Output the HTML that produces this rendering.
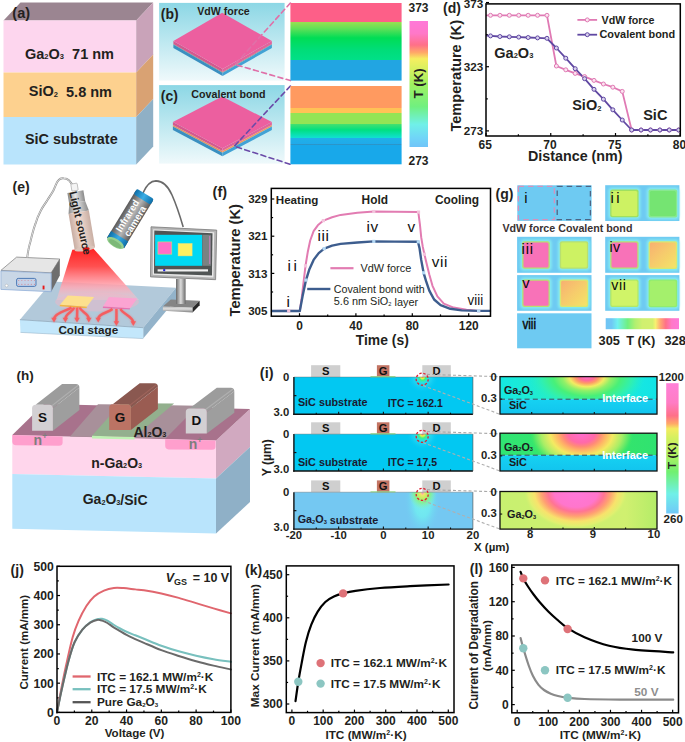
<!DOCTYPE html>
<html><head><meta charset="utf-8"><title>Figure</title>
<style>html,body{margin:0;padding:0;background:#fff;width:685px;height:742px;overflow:hidden}
body{position:relative;font-family:"Liberation Sans", sans-serif}</style></head>
<body><svg width="685" height="742" viewBox="0 0 685 742" style="position:absolute;left:0;top:0" font-family='"Liberation Sans", sans-serif'><defs><linearGradient id="bgbc" x1="0" y1="0" x2="0" y2="1"><stop offset="0" stop-color="#8cd7e5"/><stop offset="1" stop-color="#eff9fb"/></linearGradient><linearGradient id="stripb" x1="0" y1="0" x2="0" y2="1"><stop offset="0" stop-color="#fd5f88"/><stop offset="0.24" stop-color="#fd5f88"/><stop offset="0.245" stop-color="#9ae050"/><stop offset="0.33" stop-color="#60e058"/><stop offset="0.45" stop-color="#00dd55"/><stop offset="0.6" stop-color="#00dd78"/><stop offset="0.735" stop-color="#00e088"/><stop offset="0.74" stop-color="#22a5e2"/><stop offset="1" stop-color="#22a5e2"/></linearGradient><linearGradient id="stripc" x1="0" y1="0" x2="0" y2="1"><stop offset="0" stop-color="#ff9a60"/><stop offset="0.275" stop-color="#ff9a60"/><stop offset="0.28" stop-color="#f0a060"/><stop offset="0.285" stop-color="#ffc256"/><stop offset="0.345" stop-color="#ffc256"/><stop offset="0.35" stop-color="#92e455"/><stop offset="0.48" stop-color="#92e455"/><stop offset="0.49" stop-color="#40e070"/><stop offset="0.56" stop-color="#00e080"/><stop offset="0.66" stop-color="#10e0d0"/><stop offset="0.67" stop-color="#20b0e8"/><stop offset="0.74" stop-color="#20aaea"/><stop offset="0.745" stop-color="#3090c0"/><stop offset="0.755" stop-color="#18a8ea"/><stop offset="1" stop-color="#18a8ea"/></linearGradient><linearGradient id="cb1" x1="0" y1="0" x2="0" y2="1"><stop offset="0" stop-color="#ff78d8"/><stop offset="0.1" stop-color="#ff78c8"/><stop offset="0.19" stop-color="#ff7088"/><stop offset="0.25" stop-color="#ffa868"/><stop offset="0.3" stop-color="#f6ee60"/><stop offset="0.38" stop-color="#d8f060"/><stop offset="0.5" stop-color="#a0f060"/><stop offset="0.68" stop-color="#70f080"/><stop offset="0.82" stop-color="#70f0e8"/><stop offset="0.93" stop-color="#70d4f8"/><stop offset="1" stop-color="#70c4f8"/></linearGradient><linearGradient id="cone" x1="0" y1="0" x2="0" y2="1"><stop offset="0" stop-color="#ff2222"/><stop offset="0.35" stop-color="#ff5050"/><stop offset="0.75" stop-color="#ffa8b4" stop-opacity="0.85"/><stop offset="1" stop-color="#ffc8d2" stop-opacity="0.35"/></linearGradient><linearGradient id="beige" x1="0" y1="0" x2="1" y2="0"><stop offset="0" stop-color="#c8ada2"/><stop offset="0.45" stop-color="#f2ddd3"/><stop offset="1" stop-color="#c9afa4"/></linearGradient><linearGradient id="greyc" x1="0" y1="0" x2="1" y2="0"><stop offset="0" stop-color="#8a8a8a"/><stop offset="0.45" stop-color="#e8e8e8"/><stop offset="1" stop-color="#8a8a8a"/></linearGradient><linearGradient id="camg" x1="0" y1="0" x2="1" y2="0"><stop offset="0" stop-color="#5a5a5a"/><stop offset="0.5" stop-color="#b4b4b4"/><stop offset="1" stop-color="#5a5a5a"/></linearGradient><linearGradient id="camb" x1="0" y1="0" x2="1" y2="0"><stop offset="0" stop-color="#0e6ea8"/><stop offset="0.5" stop-color="#3aaee6"/><stop offset="1" stop-color="#0e6ea8"/></linearGradient><linearGradient id="stand" x1="0" y1="0" x2="1" y2="0"><stop offset="0" stop-color="#6a6a6a"/><stop offset="0.5" stop-color="#dcdcdc"/><stop offset="1" stop-color="#6a6a6a"/></linearGradient><linearGradient id="basef" x1="0" y1="0" x2="0" y2="1"><stop offset="0" stop-color="#b8b8b8"/><stop offset="0.4" stop-color="#e0e0e0"/><stop offset="1" stop-color="#7a7a7a"/></linearGradient><filter id="blr1" x="-20%" y="-20%" width="140%" height="140%"><feGaussianBlur stdDeviation="1.1"/></filter><filter id="blr05" x="-10%" y="-10%" width="120%" height="120%"><feGaussianBlur stdDeviation="0.45"/></filter><linearGradient id="orsq" x1="0" y1="0" x2="1" y2="1"><stop offset="0" stop-color="#f8b070"/><stop offset="0.5" stop-color="#f6cc6c"/><stop offset="1" stop-color="#f4e468"/></linearGradient><linearGradient id="cbg" x1="0" y1="0" x2="1" y2="0"><stop offset="0" stop-color="#70c4f4"/><stop offset="0.08" stop-color="#70c8f4"/><stop offset="0.16" stop-color="#70f0f0"/><stop offset="0.3" stop-color="#70f080"/><stop offset="0.4" stop-color="#b0f070"/><stop offset="0.5" stop-color="#d0f070"/><stop offset="0.64" stop-color="#d4f070"/><stop offset="0.68" stop-color="#f8f070"/><stop offset="0.75" stop-color="#ffa474"/><stop offset="0.82" stop-color="#ff7088"/><stop offset="0.9" stop-color="#ff78c8"/><stop offset="1" stop-color="#ff78d8"/></linearGradient><radialGradient id="m3halo" gradientUnits="userSpaceOnUse" cx="422.5" cy="500" r="30" gradientTransform="translate(422.5,500) scale(0.62,1.25) translate(-422.5,-500)"><stop offset="0" stop-color="#78f0ee"/><stop offset="0.45" stop-color="#70ecf0" stop-opacity="0.85"/><stop offset="0.75" stop-color="#70d8f2" stop-opacity="0.4"/><stop offset="1" stop-color="#74c8f2" stop-opacity="0"/></radialGradient><radialGradient id="m3glow" gradientUnits="userSpaceOnUse" cx="422.5" cy="493" r="14" gradientTransform="translate(422.5,493) scale(1,1.2) translate(-422.5,-493)"><stop offset="0" stop-color="#ff88c8"/><stop offset="0.12" stop-color="#f4e070"/><stop offset="0.3" stop-color="#c8f060"/><stop offset="0.55" stop-color="#88f080" stop-opacity="0.85"/><stop offset="1" stop-color="#80f0c0" stop-opacity="0"/></radialGradient><radialGradient id="m1glow" gradientUnits="userSpaceOnUse" cx="422.5" cy="377" r="16"><stop offset="0" stop-color="#ff8060"/><stop offset="0.1" stop-color="#f0f040"/><stop offset="0.2" stop-color="#40f080"/><stop offset="0.35" stop-color="#30e8e0" stop-opacity="0.8"/><stop offset="0.6" stop-color="#30d8f4" stop-opacity="0.5"/><stop offset="1" stop-color="#02c8f2" stop-opacity="0"/></radialGradient><radialGradient id="m2glow" gradientUnits="userSpaceOnUse" cx="422.5" cy="434.1" r="16"><stop offset="0" stop-color="#ff6080"/><stop offset="0.12" stop-color="#f0f040"/><stop offset="0.25" stop-color="#40f080"/><stop offset="0.4" stop-color="#30e8e0" stop-opacity="0.8"/><stop offset="0.65" stop-color="#30d8f4" stop-opacity="0.45"/><stop offset="1" stop-color="#02c8f2" stop-opacity="0"/></radialGradient><clipPath id="zc0"><rect x="500" y="376.6" width="157" height="37.5"/></clipPath><radialGradient id="hot0" gradientUnits="userSpaceOnUse" cx="586.8" cy="376.6" r="58" gradientTransform="translate(586.8,376.6) scale(1,0.58) translate(-586.8,-376.6)"><stop offset="0" stop-color="#ff6cd0"/><stop offset="0.12" stop-color="#ff6a9a"/><stop offset="0.2" stop-color="#ff9a66"/><stop offset="0.3" stop-color="#f2ec62"/><stop offset="0.42" stop-color="#90f068"/><stop offset="0.58" stop-color="#48f078"/><stop offset="0.78" stop-color="#30f0b0"/><stop offset="1" stop-color="#24eec8" stop-opacity="0"/></radialGradient><linearGradient id="zbg0" x1="0" y1="0" x2="1" y2="0"><stop offset="0" stop-color="#14e8e2"/><stop offset="0.25" stop-color="#20ecd0"/><stop offset="0.5" stop-color="#24eec8"/><stop offset="0.75" stop-color="#1aeadc"/><stop offset="1" stop-color="#12e4e6"/></linearGradient><linearGradient id="sic0" x1="0" y1="0" x2="0" y2="1"><stop offset="0" stop-color="#16d2f2"/><stop offset="1" stop-color="#12c4ee"/></linearGradient><clipPath id="zc1"><rect x="500" y="433.2" width="157" height="37.80000000000001"/></clipPath><radialGradient id="hot1" gradientUnits="userSpaceOnUse" cx="581.5" cy="433.2" r="52" gradientTransform="translate(581.5,433.2) scale(1,0.72) translate(-581.5,-433.2)"><stop offset="0" stop-color="#ff6cd0"/><stop offset="0.26" stop-color="#ff6aa8"/><stop offset="0.36" stop-color="#ff8a78"/><stop offset="0.46" stop-color="#ffb466"/><stop offset="0.6" stop-color="#f4ea62"/><stop offset="0.78" stop-color="#a8ee66"/><stop offset="0.92" stop-color="#50e868"/><stop offset="1" stop-color="#38e868" stop-opacity="0"/></radialGradient><linearGradient id="zbg1" x1="0" y1="0" x2="1" y2="0"><stop offset="0" stop-color="#30e474"/><stop offset="0.5" stop-color="#38e868"/><stop offset="1" stop-color="#30e270"/></linearGradient><linearGradient id="sic1" x1="0" y1="0" x2="0" y2="1"><stop offset="0" stop-color="#16d2f2"/><stop offset="1" stop-color="#12c4ee"/></linearGradient><clipPath id="zc2"><rect x="500" y="491.5" width="157" height="37.60000000000002"/></clipPath><radialGradient id="hot2" gradientUnits="userSpaceOnUse" cx="576" cy="491.5" r="52" gradientTransform="translate(576,491.5) scale(1,0.72) translate(-576,-491.5)"><stop offset="0" stop-color="#ff78da"/><stop offset="0.42" stop-color="#ff76cc"/><stop offset="0.54" stop-color="#ff7494"/><stop offset="0.66" stop-color="#ffa072"/><stop offset="0.8" stop-color="#f8e26c"/><stop offset="0.92" stop-color="#e0f070"/><stop offset="1" stop-color="#d0f070" stop-opacity="0"/></radialGradient><linearGradient id="zbg2" x1="0" y1="0" x2="1" y2="0"><stop offset="0" stop-color="#c8f070"/><stop offset="0.8" stop-color="#d0f070"/><stop offset="1" stop-color="#b4ec68"/></linearGradient><linearGradient id="cbi" x1="0" y1="0" x2="0" y2="1"><stop offset="0" stop-color="#ff80d8"/><stop offset="0.15" stop-color="#ff7cc4"/><stop offset="0.25" stop-color="#ff7088"/><stop offset="0.31" stop-color="#ffa868"/><stop offset="0.35" stop-color="#f4ec60"/><stop offset="0.42" stop-color="#d4f060"/><stop offset="0.55" stop-color="#b0f060"/><stop offset="0.68" stop-color="#70f070"/><stop offset="0.85" stop-color="#70f0e8"/><stop offset="1" stop-color="#70c8f8"/></linearGradient></defs><polygon points="3.50,20.40 20.50,2.40 153.20,2.40 136.20,20.40" fill="#9b8591" />
<rect x="3.50" y="20.40" width="132.70" height="52.10" fill="#fdd6ee" />
<rect x="3.50" y="72.50" width="132.70" height="44.50" fill="#fdd18f" />
<rect x="3.50" y="117.00" width="132.70" height="47.50" fill="#b9e4fc" />
<polygon points="136.20,20.40 153.20,2.40 153.20,54.50 136.20,72.50" fill="#c9a3b9" />
<polygon points="136.20,72.50 153.20,54.50 153.20,99.00 136.20,117.00" fill="#d9a273" />
<polygon points="136.20,117.00 153.20,99.00 153.20,146.50 136.20,164.50" fill="#8fb0c6" />
<text x="12.30" y="18.30" font-size="14.5" text-anchor="start" font-weight="bold" fill="#231f20" >(a)</text>
<text x="25.00" y="58.70" font-size="14.5" text-anchor="start" font-weight="bold" fill="#231f20" >Ga<tspan font-size="7.54" dy="0.73">2</tspan><tspan dy="-0.73">O</tspan><tspan font-size="7.54" dy="0.73">3</tspan><tspan dy="-0.73"></tspan>&#160; 71 nm</text>
<text x="28.80" y="96.40" font-size="14.5" text-anchor="start" font-weight="bold" fill="#231f20" >SiO<tspan font-size="7.54" dy="0.73">2</tspan><tspan dy="-0.73"></tspan>&#160; 5.8 nm</text>
<text x="24.90" y="144.30" font-size="14.4" text-anchor="start" font-weight="bold" fill="#231f20" >SiC substrate</text>
<rect x="159.10" y="2.90" width="125.50" height="77.70" fill="url(#bgbc)" />
<rect x="159.10" y="85.10" width="125.50" height="78.50" fill="url(#bgbc)" />
<polygon points="173.40,40.90 222.60,69.00 222.60,72.00 173.40,43.90" fill="#d4588f" />
<polygon points="222.60,69.00 271.90,40.90 271.90,43.90 222.60,72.00" fill="#e2639c" />
<polygon points="173.40,43.90 222.60,72.00 222.60,72.70 173.40,44.60" fill="#b07060" />
<polygon points="222.60,72.00 271.90,43.90 271.90,44.60 222.60,72.70" fill="#c07868" />
<polygon points="173.40,44.60 222.60,72.70 222.60,76.00 173.40,47.90" fill="#3a8fc0" />
<polygon points="222.60,72.70 271.90,44.60 271.90,47.90 222.60,76.00" fill="#42a2d4" />
<polygon points="222.20,12.80 271.90,40.90 222.60,69.00 173.40,40.90" fill="#ec5f9f" />
<polygon points="172.90,122.10 222.40,148.30 222.40,151.10 172.90,124.90" fill="#d4588f" />
<polygon points="222.40,148.30 271.90,122.10 271.90,124.90 222.40,151.10" fill="#e2639c" />
<polygon points="172.90,124.90 222.40,151.10 222.40,152.80 172.90,126.60" fill="#e89060" />
<polygon points="222.40,151.10 271.90,124.90 271.90,126.60 222.40,152.80" fill="#f09a60" />
<polygon points="172.90,126.60 222.40,152.80 222.40,156.30 172.90,130.10" fill="#3a8fc0" />
<polygon points="222.40,152.80 271.90,126.60 271.90,130.10 222.40,156.30" fill="#42a2d4" />
<polygon points="222.20,96.40 271.90,122.10 222.40,148.30 172.90,122.10" fill="#ec5f9f" />
<text x="160.80" y="19.20" font-size="14" text-anchor="start" font-weight="bold" fill="#231f20" >(b)</text>
<text x="197.30" y="15.00" font-size="10.6" text-anchor="start" font-weight="bold" fill="#231f20" >VdW force</text>
<text x="160.80" y="100.50" font-size="14" text-anchor="start" font-weight="bold" fill="#231f20" >(c)</text>
<text x="191.30" y="98.10" font-size="10.7" text-anchor="start" font-weight="bold" fill="#231f20" >Covalent bond</text>
<polyline points="290.40,3.00 235.00,64.50 290.40,80.60" fill="none" stroke="#e070a8" stroke-width="1.6" stroke-linejoin="round" stroke-linecap="round" stroke-dasharray="5 3.5"/>
<polyline points="290.40,86.00 234.20,146.30 290.40,164.30" fill="none" stroke="#6a4aa8" stroke-width="1.6" stroke-linejoin="round" stroke-linecap="round" stroke-dasharray="5 3.5"/>
<rect x="290.40" y="3.00" width="111.20" height="77.60" fill="url(#stripb)" />
<rect x="290.40" y="86.00" width="111.20" height="78.30" fill="url(#stripc)" />
<rect x="409.50" y="21.00" width="18.50" height="126.00" fill="url(#cb1)" />
<text x="418.50" y="12.30" font-size="12" text-anchor="middle" font-weight="bold" fill="#231f20" >373</text>
<text x="418.50" y="164.90" font-size="12" text-anchor="middle" font-weight="bold" fill="#231f20" >273</text>
<text transform="translate(423.4,83.4) rotate(-90)" font-size="13.2" font-weight="bold" text-anchor="middle" fill="#231f20">T (K)</text>
<line x1="486.00" y1="130.90" x2="489.00" y2="130.90" stroke="#000" stroke-width="1.2" />
<line x1="486.00" y1="66.72" x2="489.00" y2="66.72" stroke="#000" stroke-width="1.2" />
<line x1="486.00" y1="2.55" x2="489.00" y2="2.55" stroke="#000" stroke-width="1.2" />
<line x1="486.00" y1="98.81" x2="487.80" y2="98.81" stroke="#000" stroke-width="1.2" />
<line x1="486.00" y1="34.64" x2="487.80" y2="34.64" stroke="#000" stroke-width="1.2" />
<line x1="486.00" y1="136.00" x2="486.00" y2="133.00" stroke="#000" stroke-width="1.2" />
<line x1="550.75" y1="136.00" x2="550.75" y2="133.00" stroke="#000" stroke-width="1.2" />
<line x1="615.50" y1="136.00" x2="615.50" y2="133.00" stroke="#000" stroke-width="1.2" />
<line x1="680.25" y1="136.00" x2="680.25" y2="133.00" stroke="#000" stroke-width="1.2" />
<line x1="518.38" y1="136.00" x2="518.38" y2="134.20" stroke="#000" stroke-width="1.2" />
<line x1="583.12" y1="136.00" x2="583.12" y2="134.20" stroke="#000" stroke-width="1.2" />
<line x1="647.88" y1="136.00" x2="647.88" y2="134.20" stroke="#000" stroke-width="1.2" />
<polyline points="486.80,15.30 490.50,15.30 499.91,15.30 509.32,15.30 518.73,15.30 528.14,15.30 537.55,15.30 546.96,15.30 556.37,66.00 565.78,69.80 575.19,73.40 584.60,76.60 594.01,80.40 603.42,84.00 612.83,87.20 622.24,91.40 631.65,130.00 641.06,130.00 650.47,130.00 659.88,130.00 669.29,130.00 678.70,130.00" fill="none" stroke="#e07ab4" stroke-width="1.8" stroke-linejoin="round" stroke-linecap="round" />
<polyline points="486.80,35.60 490.50,35.90 499.91,36.50 509.32,36.80 518.73,37.10 528.14,37.50 537.55,37.90 546.96,38.30 556.37,48.00 565.78,58.20 575.19,68.70 584.60,78.70 594.01,89.30 603.42,99.20 612.83,109.80 622.24,120.00 631.65,130.00 641.06,130.00 650.47,130.00 659.88,130.00 669.29,130.00 678.70,130.00" fill="none" stroke="#6048a2" stroke-width="1.8" stroke-linejoin="round" stroke-linecap="round" />
<circle cx="490.50" cy="15.30" r="2.00" fill="#fbe3ef" stroke="#e07ab4" stroke-width="1"/>
<circle cx="499.91" cy="15.30" r="2.00" fill="#fbe3ef" stroke="#e07ab4" stroke-width="1"/>
<circle cx="509.32" cy="15.30" r="2.00" fill="#fbe3ef" stroke="#e07ab4" stroke-width="1"/>
<circle cx="518.73" cy="15.30" r="2.00" fill="#fbe3ef" stroke="#e07ab4" stroke-width="1"/>
<circle cx="528.14" cy="15.30" r="2.00" fill="#fbe3ef" stroke="#e07ab4" stroke-width="1"/>
<circle cx="537.55" cy="15.30" r="2.00" fill="#fbe3ef" stroke="#e07ab4" stroke-width="1"/>
<circle cx="546.96" cy="15.30" r="2.00" fill="#fbe3ef" stroke="#e07ab4" stroke-width="1"/>
<circle cx="556.37" cy="66.00" r="2.00" fill="#fbe3ef" stroke="#e07ab4" stroke-width="1"/>
<circle cx="565.78" cy="69.80" r="2.00" fill="#fbe3ef" stroke="#e07ab4" stroke-width="1"/>
<circle cx="575.19" cy="73.40" r="2.00" fill="#fbe3ef" stroke="#e07ab4" stroke-width="1"/>
<circle cx="584.60" cy="76.60" r="2.00" fill="#fbe3ef" stroke="#e07ab4" stroke-width="1"/>
<circle cx="594.01" cy="80.40" r="2.00" fill="#fbe3ef" stroke="#e07ab4" stroke-width="1"/>
<circle cx="603.42" cy="84.00" r="2.00" fill="#fbe3ef" stroke="#e07ab4" stroke-width="1"/>
<circle cx="612.83" cy="87.20" r="2.00" fill="#fbe3ef" stroke="#e07ab4" stroke-width="1"/>
<circle cx="622.24" cy="91.40" r="2.00" fill="#fbe3ef" stroke="#e07ab4" stroke-width="1"/>
<circle cx="631.65" cy="130.00" r="2.00" fill="#fbe3ef" stroke="#e07ab4" stroke-width="1"/>
<circle cx="641.06" cy="130.00" r="2.00" fill="#fbe3ef" stroke="#e07ab4" stroke-width="1"/>
<circle cx="650.47" cy="130.00" r="2.00" fill="#fbe3ef" stroke="#e07ab4" stroke-width="1"/>
<circle cx="659.88" cy="130.00" r="2.00" fill="#fbe3ef" stroke="#e07ab4" stroke-width="1"/>
<circle cx="669.29" cy="130.00" r="2.00" fill="#fbe3ef" stroke="#e07ab4" stroke-width="1"/>
<circle cx="678.70" cy="130.00" r="2.00" fill="#fbe3ef" stroke="#e07ab4" stroke-width="1"/>
<circle cx="490.50" cy="35.90" r="2.00" fill="#d9d2ee" stroke="#6048a2" stroke-width="1"/>
<circle cx="499.91" cy="36.50" r="2.00" fill="#d9d2ee" stroke="#6048a2" stroke-width="1"/>
<circle cx="509.32" cy="36.80" r="2.00" fill="#d9d2ee" stroke="#6048a2" stroke-width="1"/>
<circle cx="518.73" cy="37.10" r="2.00" fill="#d9d2ee" stroke="#6048a2" stroke-width="1"/>
<circle cx="528.14" cy="37.50" r="2.00" fill="#d9d2ee" stroke="#6048a2" stroke-width="1"/>
<circle cx="537.55" cy="37.90" r="2.00" fill="#d9d2ee" stroke="#6048a2" stroke-width="1"/>
<circle cx="546.96" cy="38.30" r="2.00" fill="#d9d2ee" stroke="#6048a2" stroke-width="1"/>
<circle cx="556.37" cy="48.00" r="2.00" fill="#d9d2ee" stroke="#6048a2" stroke-width="1"/>
<circle cx="565.78" cy="58.20" r="2.00" fill="#d9d2ee" stroke="#6048a2" stroke-width="1"/>
<circle cx="575.19" cy="68.70" r="2.00" fill="#d9d2ee" stroke="#6048a2" stroke-width="1"/>
<circle cx="584.60" cy="78.70" r="2.00" fill="#d9d2ee" stroke="#6048a2" stroke-width="1"/>
<circle cx="594.01" cy="89.30" r="2.00" fill="#d9d2ee" stroke="#6048a2" stroke-width="1"/>
<circle cx="603.42" cy="99.20" r="2.00" fill="#d9d2ee" stroke="#6048a2" stroke-width="1"/>
<circle cx="612.83" cy="109.80" r="2.00" fill="#d9d2ee" stroke="#6048a2" stroke-width="1"/>
<circle cx="622.24" cy="120.00" r="2.00" fill="#d9d2ee" stroke="#6048a2" stroke-width="1"/>
<circle cx="631.65" cy="130.00" r="2.00" fill="#d9d2ee" stroke="#6048a2" stroke-width="1"/>
<circle cx="641.06" cy="130.00" r="2.00" fill="#d9d2ee" stroke="#6048a2" stroke-width="1"/>
<circle cx="650.47" cy="130.00" r="2.00" fill="#d9d2ee" stroke="#6048a2" stroke-width="1"/>
<circle cx="659.88" cy="130.00" r="2.00" fill="#d9d2ee" stroke="#6048a2" stroke-width="1"/>
<circle cx="669.29" cy="130.00" r="2.00" fill="#d9d2ee" stroke="#6048a2" stroke-width="1"/>
<circle cx="678.70" cy="130.00" r="2.00" fill="#d9d2ee" stroke="#6048a2" stroke-width="1"/>
<rect x="486" y="3.9" width="194.29999999999995" height="132.1" fill="none" stroke="#000" stroke-width="1.5"/>
<line x1="577.40" y1="19.90" x2="597.10" y2="19.90" stroke="#e07ab4" stroke-width="1.8" />
<circle cx="587.30" cy="19.90" r="2.00" fill="#fbe3ef" stroke="#e07ab4" stroke-width="1"/>
<line x1="577.40" y1="34.70" x2="597.10" y2="34.70" stroke="#6048a2" stroke-width="1.8" />
<circle cx="587.30" cy="34.70" r="2.00" fill="#d9d2ee" stroke="#6048a2" stroke-width="1"/>
<text x="601.50" y="23.58" font-size="10.7" text-anchor="start" font-weight="bold" fill="#231f20" >VdW force</text>
<text x="599.50" y="38.45" font-size="10.9" text-anchor="start" font-weight="bold" fill="#231f20" >Covalent bond</text>
<text x="494.30" y="57.50" font-size="14.5" text-anchor="start" font-weight="bold" fill="#231f20" >Ga<tspan font-size="7.54" dy="0.73">2</tspan><tspan dy="-0.73">O</tspan><tspan font-size="7.54" dy="0.73">3</tspan><tspan dy="-0.73"></tspan></text>
<text x="572.20" y="110.09" font-size="14.5" text-anchor="start" font-weight="bold" fill="#231f20" >SiO<tspan font-size="7.54" dy="0.73">2</tspan><tspan dy="-0.73"></tspan></text>
<text x="643.20" y="120.29" font-size="14.5" text-anchor="start" font-weight="bold" fill="#231f20" >SiC</text>
<text x="483.20" y="135.22" font-size="11.7" text-anchor="end" font-weight="bold" fill="#231f20" >273</text>
<text x="483.20" y="71.05" font-size="11.7" text-anchor="end" font-weight="bold" fill="#231f20" >323</text>
<text x="483.20" y="7.77" font-size="11.7" text-anchor="end" font-weight="bold" fill="#231f20" >373</text>
<text x="485.20" y="149.13" font-size="12" text-anchor="middle" font-weight="bold" fill="#231f20" >65</text>
<text x="549.95" y="149.13" font-size="12" text-anchor="middle" font-weight="bold" fill="#231f20" >70</text>
<text x="614.70" y="149.13" font-size="12" text-anchor="middle" font-weight="bold" fill="#231f20" >75</text>
<text x="679.45" y="149.13" font-size="12" text-anchor="middle" font-weight="bold" fill="#231f20" >80</text>
<text x="575.30" y="161.40" font-size="14.3" text-anchor="middle" font-weight="bold" fill="#231f20" >Distance (nm)</text>
<text transform="translate(461.2,75.8) rotate(-90)" font-size="14.6" font-weight="bold" text-anchor="middle" fill="#231f20">Temperature (K)</text>
<text x="443.00" y="13.30" font-size="14" text-anchor="start" font-weight="bold" fill="#231f20" >(d)</text>
<text x="12.50" y="191.80" font-size="14" text-anchor="start" font-weight="bold" fill="#231f20" >(e)</text>
<polygon points="19.90,319.70 52.00,281.50 176.00,287.80 143.20,327.70" fill="#b2c9da" />
<polygon points="143.20,327.70 176.00,287.80 176.00,299.20 143.20,338.60" fill="#93b3ca" />
<polygon points="19.90,319.70 143.20,327.70 143.20,338.60 20.50,332.40" fill="#c3e7fb" />
<line x1="19.90" y1="319.70" x2="143.20" y2="327.70" stroke="#8ea7ba" stroke-width="0.8" />
<line x1="20.50" y1="332.40" x2="143.20" y2="338.60" stroke="#9cb8cc" stroke-width="0.6" />
<polygon points="0.90,270.40 16.60,257.10 59.80,259.00 51.20,272.80" fill="#e6e6e6" stroke="#7a7a7a" stroke-width="0.7"/>
<polygon points="51.20,272.80 59.80,259.00 59.80,275.50 51.20,291.70" fill="#6e6e6e" />
<polygon points="0.90,270.90 51.20,273.20 51.20,291.70 0.90,289.40" fill="#c9d7e6" stroke="#86a8d6" stroke-width="0.7"/>
<rect x="16.6" y="278.4" width="19.4" height="8" rx="1.6" fill="#c4d2e8" stroke="#3f6fb0" stroke-width="0.9"/>
<circle cx="18.80" cy="280.60" r="0.45" fill="#e04040" />
<circle cx="18.80" cy="284.30" r="0.45" fill="#e04040" />
<circle cx="21.90" cy="280.60" r="0.45" fill="#e04040" />
<circle cx="21.90" cy="284.30" r="0.45" fill="#e04040" />
<circle cx="25.00" cy="280.60" r="0.45" fill="#e04040" />
<circle cx="25.00" cy="284.30" r="0.45" fill="#e04040" />
<circle cx="28.10" cy="280.60" r="0.45" fill="#e04040" />
<circle cx="28.10" cy="284.30" r="0.45" fill="#e04040" />
<circle cx="31.20" cy="280.60" r="0.45" fill="#e04040" />
<circle cx="31.20" cy="284.30" r="0.45" fill="#e04040" />
<circle cx="34.30" cy="280.60" r="0.45" fill="#e04040" />
<circle cx="34.30" cy="284.30" r="0.45" fill="#e04040" />
<rect x="42.60" y="285.60" width="1.90" height="3.80" fill="#e81818" />
<circle cx="6.60" cy="285.60" r="1.40" fill="#ffffff" stroke="#a0a0a0" stroke-width="0.4"/>
<path d="M27.2,257.5 C28.2,250 29,246 30.4,241.7 C32,235 33.5,229 35.5,223.7 C37,218 38.5,215 40.6,211 C43,206 45,204 47,200.7 C50,196 51.5,194 53.4,190.5 C55.5,186 56.5,182 58.5,180.2 C60,178.5 62,178 63.6,178.3 C66,178.6 67.5,179 68.8,180.2 C70,181.5 71,183 72.5,185" fill="none" stroke="#8c8c8c" stroke-width="1.9"/>
<path d="M27.2,257.5 C28.2,250 29,246 30.4,241.7 C32,235 33.5,229 35.5,223.7 C37,218 38.5,215 40.6,211 C43,206 45,204 47,200.7 C50,196 51.5,194 53.4,190.5 C55.5,186 56.5,182 58.5,180.2 C60,178.5 62,178 63.6,178.3 C66,178.6 67.5,179 68.8,180.2 C70,181.5 71,183 72.5,185" fill="none" stroke="#f2f2f2" stroke-width="0.8"/>
<polygon points="72.30,249.80 93.10,248.20 139.00,300.00 56.50,300.00" fill="url(#cone)" />
<ellipse cx="97" cy="302" rx="42" ry="9.5" fill="#f2b6c6" opacity="0.45"/>
<polygon points="59.90,304.80 67.80,295.60 94.10,296.90 86.90,306.80" fill="#fde08e" />
<polygon points="59.90,304.80 86.90,306.80 86.60,308.20 59.70,306.20" fill="#f2b840" />
<polygon points="103.00,306.50 108.90,297.00 137.30,298.50 130.00,308.20" fill="#fba4d2" />
<polygon points="103.00,306.50 130.00,308.20 129.80,309.60 102.80,307.90" fill="#e672b4" />
<g opacity="0.45" filter="url(#blr1)"><path d="M71.5,307.5 C67,311 56,312 54,318.5" fill="none" stroke="#ff4e4e" stroke-width="2.5"/><polygon points="51.2,317.8 56.8,317.8 54.0,322.6" fill="#ff4e4e"/><path d="M74.2,307.5 C73,312 66,313 65.4,318.5" fill="none" stroke="#ff4e4e" stroke-width="2.5"/><polygon points="62.6,317.8 68.2,317.8 65.4,322.6" fill="#ff4e4e"/><path d="M77,307.5 C77.5,312 77,315 77,318.5" fill="none" stroke="#ff4e4e" stroke-width="2.5"/><polygon points="74.2,317.8 79.8,317.8 77.0,322.6" fill="#ff4e4e"/><path d="M79.6,307.5 C81,312 88,313 88.8,318.5" fill="none" stroke="#ff4e4e" stroke-width="2.5"/><polygon points="86.0,317.8 91.6,317.8 88.8,322.6" fill="#ff4e4e"/><path d="M112.5,309 C108,313 99,313 98.2,318.5" fill="none" stroke="#ff4e4e" stroke-width="2.5"/><polygon points="95.4,317.8 101.0,317.8 98.2,322.6" fill="#ff4e4e"/><path d="M116.4,309 C116.6,314 116.4,317 116.4,322" fill="none" stroke="#ff4e4e" stroke-width="2.5"/><polygon points="113.6,321.3 119.2,321.3 116.4,326.1" fill="#ff4e4e"/><path d="M120.4,309 C123,314 132,316 133.3,322" fill="none" stroke="#ff4e4e" stroke-width="2.5"/><polygon points="130.5,321.3 136.1,321.3 133.3,326.1" fill="#ff4e4e"/></g>
<g opacity="0.8"><path d="M71.5,307.5 C67,311 56,312 54,318.5" fill="none" stroke="#ff4e4e" stroke-width="2.5"/><polygon points="51.2,317.8 56.8,317.8 54.0,322.6" fill="#ff4e4e"/><path d="M74.2,307.5 C73,312 66,313 65.4,318.5" fill="none" stroke="#ff4e4e" stroke-width="2.5"/><polygon points="62.6,317.8 68.2,317.8 65.4,322.6" fill="#ff4e4e"/><path d="M77,307.5 C77.5,312 77,315 77,318.5" fill="none" stroke="#ff4e4e" stroke-width="2.5"/><polygon points="74.2,317.8 79.8,317.8 77.0,322.6" fill="#ff4e4e"/><path d="M79.6,307.5 C81,312 88,313 88.8,318.5" fill="none" stroke="#ff4e4e" stroke-width="2.5"/><polygon points="86.0,317.8 91.6,317.8 88.8,322.6" fill="#ff4e4e"/><path d="M112.5,309 C108,313 99,313 98.2,318.5" fill="none" stroke="#ff4e4e" stroke-width="2.5"/><polygon points="95.4,317.8 101.0,317.8 98.2,322.6" fill="#ff4e4e"/><path d="M116.4,309 C116.6,314 116.4,317 116.4,322" fill="none" stroke="#ff4e4e" stroke-width="2.5"/><polygon points="113.6,321.3 119.2,321.3 116.4,326.1" fill="#ff4e4e"/><path d="M120.4,309 C123,314 132,316 133.3,322" fill="none" stroke="#ff4e4e" stroke-width="2.5"/><polygon points="130.5,321.3 136.1,321.3 133.3,326.1" fill="#ff4e4e"/></g>
<text x="58.40" y="334.20" font-size="11.7" text-anchor="start" font-weight="bold" fill="#231f20" >Cold stage</text>
<g transform="translate(73.9,183.6) rotate(-9.6)"><rect x="-3.2" y="0" width="6.4" height="7.2" rx="0.8" fill="#f4f4f4" stroke="#a0a0a0" stroke-width="0.6"/><rect x="-8" y="8.2" width="16.2" height="10.8" fill="url(#greyc)"/><polygon points="-8,19 8.2,19 10.3,29 -10.3,29" fill="url(#greyc)"/><rect x="-10.3" y="29" width="20.6" height="37" fill="url(#beige)"/><ellipse cx="0" cy="66" rx="10.3" ry="2.4" fill="#dcc4ba"/><ellipse cx="1.2" cy="66.5" rx="3.5" ry="1.7" fill="#e01010"/></g>
<text transform="translate(69.2,192.2) rotate(77)" font-size="10.8" font-weight="bold" fill="#231f20">Light source</text>
<path d="M143,193 C146,186 150,181 156,180.9 C163,181 168,186 172,195 C176,204 180,216 183.2,227" fill="none" stroke="#6a6a6a" stroke-width="1.6"/>
<g transform="translate(115.5,243) rotate(31.4)"><rect x="-10" y="-55" width="20" height="55" fill="url(#camg)"/><rect x="-10" y="-57.5" width="20" height="6.5" rx="2" fill="url(#camb)"/><rect x="-10" y="-8" width="20" height="8" fill="url(#camb)"/><ellipse cx="0" cy="0" rx="9.6" ry="4" fill="#96d090"/><ellipse cx="0" cy="0.8" rx="7.5" ry="2.6" fill="#6aa868" opacity="0.6"/><text transform="translate(-0.8,-29.5) rotate(-90)" font-size="9.6" font-weight="bold" fill="#ffffff" text-anchor="middle">Infrared</text><text transform="translate(8.6,-28.8) rotate(-90)" font-size="9.6" font-weight="bold" fill="#ffffff" text-anchor="middle">camera</text></g>
<polygon points="162.90,306.50 170.80,299.50 199.60,300.80 192.60,307.80" fill="#858585" />
<polygon points="162.90,306.50 192.60,307.80 192.60,312.60 162.90,310.80" fill="url(#basef)" />
<polygon points="192.60,307.80 199.60,300.80 199.60,305.20 192.60,312.60" fill="#262626" />
<rect x="176.00" y="279.00" width="9.60" height="25.00" fill="url(#stand)" />
<polygon points="151.00,226.80 216.70,230.10 215.60,279.70 150.50,276.90" fill="#b4b4b4" stroke="#7a7a7a" stroke-width="0.8"/>
<polygon points="153.20,229.20 214.20,232.20 213.40,277.50 152.80,274.70" fill="#e8e8e8" />
<polygon points="154.30,230.40 212.50,233.20 212.00,275.60 154.00,273.50" fill="#505454" />
<rect x="155.10" y="234.80" width="47.10" height="31.00" fill="#00d8f4" />
<rect x="202.40" y="234.80" width="8.50" height="31.00" fill="#7a8282" />
<rect x="209.30" y="236.00" width="0.90" height="28.00" fill="#d080c0" />
<rect x="157.90" y="241.90" width="13.90" height="12.30" fill="#ff6ec8" stroke="#c8e070" stroke-width="0.6"/>
<rect x="178.10" y="243.50" width="14.00" height="12.40" fill="#fff060" stroke="#e8e080" stroke-width="0.5"/>
<rect x="157.60" y="269.30" width="50.40" height="2.20" fill="#f0f0f0" />
<circle cx="164.20" cy="270.10" r="1.20" fill="#2020e0" />
<line x1="271.30" y1="310.60" x2="274.30" y2="310.60" stroke="#000" stroke-width="1.2" />
<line x1="271.30" y1="273.40" x2="274.30" y2="273.40" stroke="#000" stroke-width="1.2" />
<line x1="271.30" y1="236.20" x2="274.30" y2="236.20" stroke="#000" stroke-width="1.2" />
<line x1="271.30" y1="199.00" x2="274.30" y2="199.00" stroke="#000" stroke-width="1.2" />
<line x1="271.30" y1="292.00" x2="273.10" y2="292.00" stroke="#000" stroke-width="1.2" />
<line x1="271.30" y1="254.80" x2="273.10" y2="254.80" stroke="#000" stroke-width="1.2" />
<line x1="271.30" y1="217.60" x2="273.10" y2="217.60" stroke="#000" stroke-width="1.2" />
<line x1="299.50" y1="316.20" x2="299.50" y2="313.20" stroke="#000" stroke-width="1.2" />
<line x1="355.90" y1="316.20" x2="355.90" y2="313.20" stroke="#000" stroke-width="1.2" />
<line x1="412.30" y1="316.20" x2="412.30" y2="313.20" stroke="#000" stroke-width="1.2" />
<line x1="468.70" y1="316.20" x2="468.70" y2="313.20" stroke="#000" stroke-width="1.2" />
<line x1="327.70" y1="316.20" x2="327.70" y2="314.40" stroke="#000" stroke-width="1.2" />
<line x1="384.10" y1="316.20" x2="384.10" y2="314.40" stroke="#000" stroke-width="1.2" />
<line x1="440.50" y1="316.20" x2="440.50" y2="314.40" stroke="#000" stroke-width="1.2" />
<polyline points="272.00,311.00 285.00,310.80 299.80,311.00 301.50,299.50 303.50,282.60 305.50,265.80 307.70,252.30 310.20,240.50 313.60,231.20 317.80,225.30 323.40,220.60 332.10,217.20 340.60,214.90 357.40,212.70 373.80,211.50 395.00,211.80 418.30,211.90 419.90,224.30 421.20,237.20 422.80,246.90 424.40,254.20 426.90,264.70 429.30,274.50 432.50,285.80 437.40,296.30 443.80,303.60 453.60,307.60 466.50,309.70 477.80,310.90 490.00,310.90" fill="none" stroke="#e27cb2" stroke-width="2.0" stroke-linejoin="round" stroke-linecap="round" />
<polyline points="272.00,311.00 285.00,311.00 299.80,311.00 302.60,296.10 306.00,280.10 309.40,269.20 313.60,259.90 318.70,253.10 324.20,248.60 332.10,245.60 340.60,243.90 357.40,242.50 373.80,241.40 395.00,241.60 418.00,241.80 419.60,248.60 421.20,259.90 423.60,272.80 426.00,280.90 429.30,290.60 434.10,299.50 440.60,305.20 450.30,308.80 461.70,310.40 478.60,310.90 490.00,310.90" fill="none" stroke="#3d5d8e" stroke-width="2.4" stroke-linejoin="round" stroke-linecap="round" />
<rect x="287.10" y="309.20" width="3.20" height="3.20" fill="#f3c4dc" />
<rect x="303.90" y="264.20" width="3.20" height="3.20" fill="#f3c4dc" />
<rect x="321.80" y="219.00" width="3.20" height="3.20" fill="#f3c4dc" />
<rect x="372.20" y="209.90" width="3.20" height="3.20" fill="#f3c4dc" />
<rect x="416.90" y="210.50" width="3.20" height="3.20" fill="#f3c4dc" />
<rect x="422.80" y="252.60" width="3.20" height="3.20" fill="#f3c4dc" />
<rect x="477.00" y="309.30" width="3.20" height="3.20" fill="#f3c4dc" />
<rect x="304.40" y="278.50" width="3.20" height="3.20" fill="#b4d8f4" />
<rect x="322.60" y="247.00" width="3.20" height="3.20" fill="#b4d8f4" />
<rect x="372.20" y="239.80" width="3.20" height="3.20" fill="#b4d8f4" />
<rect x="416.70" y="240.20" width="3.20" height="3.20" fill="#b4d8f4" />
<rect x="422.00" y="271.20" width="3.20" height="3.20" fill="#b4d8f4" />
<rect x="477.00" y="309.30" width="3.20" height="3.20" fill="#b4d8f4" />
<rect x="271.3" y="188.4" width="219.2" height="127.79999999999998" fill="none" stroke="#000" stroke-width="1.5"/>
<line x1="330.40" y1="268.20" x2="353.50" y2="268.20" stroke="#e27cb2" stroke-width="2.2" />
<line x1="307.20" y1="289.00" x2="330.40" y2="289.00" stroke="#3d5d8e" stroke-width="2.4" />
<text x="360.40" y="271.95" font-size="10.9" text-anchor="start" font-weight="normal" fill="#231f20" >VdW force</text>
<text x="333.80" y="292.68" font-size="10.7" text-anchor="start" font-weight="normal" fill="#231f20" >Covalent bond with</text>
<text x="333.80" y="305.15" font-size="10.9" text-anchor="start" font-weight="normal" fill="#231f20" >5.6 nm SiO<tspan font-size="5.67" dy="0.55">2</tspan><tspan dy="-0.55"></tspan> layer</text>
<text x="275.80" y="204.19" font-size="11.6" text-anchor="start" font-weight="bold" fill="#231f20" >Heating</text>
<text x="361.60" y="203.79" font-size="11.9" text-anchor="start" font-weight="bold" fill="#231f20" >Hold</text>
<text x="434.90" y="203.79" font-size="11.9" text-anchor="start" font-weight="bold" fill="#231f20" >Cooling</text>
<text x="286.60" y="306.50" font-size="15.3" text-anchor="start" font-weight="normal" fill="#111" letter-spacing="0.6">i</text>
<text x="317.60" y="240.90" font-size="15.3" text-anchor="start" font-weight="normal" fill="#111" letter-spacing="0.6">iii</text>
<text x="366.60" y="232.20" font-size="15.3" text-anchor="start" font-weight="normal" fill="#111" letter-spacing="0.6">iv</text>
<text x="407.40" y="232.20" font-size="15.3" text-anchor="start" font-weight="normal" fill="#111" letter-spacing="0.6">v</text>
<text x="431.80" y="266.90" font-size="15.3" text-anchor="start" font-weight="normal" fill="#111" letter-spacing="0.6">vii</text>
<text x="287.50" y="270.80" font-size="15.3" text-anchor="start" font-weight="normal" fill="#111" letter-spacing="2.6">ii</text>
<text x="467.60" y="305.10" font-size="15.3" text-anchor="start" font-weight="normal" fill="#111" textLength="15.5" lengthAdjust="spacingAndGlyphs">viii</text>
<text x="267.50" y="314.89" font-size="11.6" text-anchor="end" font-weight="bold" fill="#231f20" >305</text>
<text x="267.50" y="277.69" font-size="11.6" text-anchor="end" font-weight="bold" fill="#231f20" >313</text>
<text x="267.50" y="240.49" font-size="11.6" text-anchor="end" font-weight="bold" fill="#231f20" >321</text>
<text x="267.50" y="203.29" font-size="11.6" text-anchor="end" font-weight="bold" fill="#231f20" >329</text>
<text x="299.50" y="330.09" font-size="11.9" text-anchor="middle" font-weight="bold" fill="#231f20" >0</text>
<text x="355.90" y="330.09" font-size="11.9" text-anchor="middle" font-weight="bold" fill="#231f20" >40</text>
<text x="412.30" y="330.09" font-size="11.9" text-anchor="middle" font-weight="bold" fill="#231f20" >80</text>
<text x="468.70" y="330.09" font-size="11.9" text-anchor="middle" font-weight="bold" fill="#231f20" >120</text>
<text x="382.30" y="344.80" font-size="13.9" text-anchor="middle" font-weight="bold" fill="#231f20" >Time (s)</text>
<text transform="translate(239.7,260.3) rotate(-90)" font-size="14.7" font-weight="bold" text-anchor="middle" fill="#231f20">Temperature (K)</text>
<text x="212.60" y="197.20" font-size="14.5" text-anchor="start" font-weight="bold" fill="#231f20" >(f)</text>
<text x="495.60" y="198.80" font-size="14" text-anchor="start" font-weight="bold" fill="#231f20" >(g)</text>
<rect x="517.30" y="185.30" width="74.30" height="35.60" fill="#6ecaf2" />
<rect x="518.4" y="186.3" width="36" height="33.4" fill="none" stroke="#d890bc" stroke-width="1.3" stroke-dasharray="5.5 4"/>
<rect x="557.2" y="186.3" width="33.2" height="33.4" fill="none" stroke="#4c6484" stroke-width="1.3" stroke-dasharray="5.5 4"/>
<rect x="605.20" y="185.20" width="74.20" height="35.80" fill="#6ecaf2" />
<rect x="608.20" y="187.60" width="32.40" height="31.60" rx="4" fill="#84e8f0" filter="url(#blr1)"/>
<rect x="610.20" y="189.60" width="28.40" height="27.60" rx="2" fill="#a0e060" filter="url(#blr05)"/>
<rect x="611.50" y="190.90" width="25.80" height="25.00" rx="1.5" fill="#cdf264" filter="url(#blr05)"/>
<rect x="646.60" y="187.60" width="32.60" height="31.80" rx="4" fill="#84e8f0" filter="url(#blr1)"/>
<rect x="648.60" y="189.60" width="28.60" height="27.80" rx="2" fill="#88e890" filter="url(#blr05)"/>
<rect x="649.90" y="190.90" width="26.00" height="25.20" rx="1.5" fill="#74e472" filter="url(#blr05)"/>
<text x="502.40" y="232.30" font-size="10.7" text-anchor="start" font-weight="bold" fill="#3a3232" >VdW force Covalent bond</text>
<rect x="517.10" y="236.80" width="74.40" height="36.00" fill="#6ecaf2" />
<rect x="520.20" y="239.20" width="31.60" height="31.60" rx="4" fill="#84e8f0" filter="url(#blr1)"/>
<rect x="522.20" y="241.20" width="27.60" height="27.60" rx="2" fill="#b8e070" filter="url(#blr05)"/>
<rect x="523.50" y="242.50" width="25.00" height="25.00" rx="1.5" fill="#f872b8" filter="url(#blr05)"/>
<rect x="557.80" y="239.20" width="32.40" height="31.60" rx="4" fill="#84e8f0" filter="url(#blr1)"/>
<rect x="559.80" y="241.20" width="28.40" height="27.60" rx="2" fill="#b8e070" filter="url(#blr05)"/>
<rect x="561.10" y="242.50" width="25.80" height="25.00" rx="1.5" fill="#cdf264" filter="url(#blr05)"/>
<rect x="605.20" y="236.80" width="74.20" height="36.00" fill="#6ecaf2" />
<rect x="608.20" y="239.20" width="32.40" height="31.60" rx="4" fill="#84e8f0" filter="url(#blr1)"/>
<rect x="610.20" y="241.20" width="28.40" height="27.60" rx="2" fill="#b8e070" filter="url(#blr05)"/>
<rect x="611.50" y="242.50" width="25.80" height="25.00" rx="1.5" fill="#f872b8" filter="url(#blr05)"/>
<rect x="646.60" y="239.20" width="32.60" height="31.80" rx="4" fill="#84e8f0" filter="url(#blr1)"/>
<rect x="648.60" y="241.20" width="28.60" height="27.80" rx="2" fill="#d8e870" filter="url(#blr05)"/>
<rect x="649.90" y="242.50" width="26.00" height="25.20" rx="1.5" fill="url(#orsq)" filter="url(#blr05)"/>
<rect x="517.10" y="275.10" width="74.40" height="35.70" fill="#6ecaf2" />
<rect x="520.20" y="277.50" width="31.60" height="31.60" rx="4" fill="#84e8f0" filter="url(#blr1)"/>
<rect x="522.20" y="279.50" width="27.60" height="27.60" rx="2" fill="#b8e070" filter="url(#blr05)"/>
<rect x="523.50" y="280.80" width="25.00" height="25.00" rx="1.5" fill="#f872b8" filter="url(#blr05)"/>
<rect x="557.80" y="277.50" width="32.40" height="31.60" rx="4" fill="#84e8f0" filter="url(#blr1)"/>
<rect x="559.80" y="279.50" width="28.40" height="27.60" rx="2" fill="#d8e870" filter="url(#blr05)"/>
<rect x="561.10" y="280.80" width="25.80" height="25.00" rx="1.5" fill="url(#orsq)" filter="url(#blr05)"/>
<rect x="605.20" y="275.10" width="74.20" height="35.70" fill="#6ecaf2" />
<rect x="608.20" y="277.50" width="32.40" height="31.60" rx="4" fill="#84e8f0" filter="url(#blr1)"/>
<rect x="610.20" y="279.50" width="28.40" height="27.60" rx="2" fill="#b0e868" filter="url(#blr05)"/>
<rect x="611.50" y="280.80" width="25.80" height="25.00" rx="1.5" fill="#d0f468" filter="url(#blr05)"/>
<rect x="646.60" y="277.50" width="32.60" height="31.80" rx="4" fill="#84e8f0" filter="url(#blr1)"/>
<rect x="648.60" y="279.50" width="28.60" height="27.80" rx="2" fill="#90ec70" filter="url(#blr05)"/>
<rect x="649.90" y="280.80" width="26.00" height="25.20" rx="1.5" fill="#a4f06c" filter="url(#blr05)"/>
<rect x="517.10" y="313.30" width="74.40" height="35.00" fill="#6ecaf2" />
<text x="610.40" y="202.80" font-size="14.8" text-anchor="start" font-weight="normal" fill="#0a0a0a" letter-spacing="2.6">ii</text>
<text x="524.30" y="202.80" font-size="14.8" text-anchor="start" font-weight="normal" fill="#0a0a0a" letter-spacing="0.9">i</text>
<text x="521.50" y="254.00" font-size="14.8" text-anchor="start" font-weight="normal" fill="#0a0a0a" letter-spacing="0.9">iii</text>
<text x="522.20" y="288.20" font-size="14.8" text-anchor="start" font-weight="normal" fill="#0a0a0a" letter-spacing="0.9">v</text>
<text x="609.60" y="251.80" font-size="14.2" text-anchor="start" font-weight="normal" fill="#0a0a0a" letter-spacing="0.3">iv</text>
<text x="611.30" y="289.60" font-size="14.2" text-anchor="start" font-weight="normal" fill="#0a0a0a" letter-spacing="0.6">vii</text>
<text x="522.40" y="328.60" font-size="14.8" text-anchor="start" font-weight="normal" fill="#0a0a0a" textLength="13.6" lengthAdjust="spacingAndGlyphs" stroke="#0a0a0a" stroke-width="0.5">viii</text>
<rect x="605.70" y="318.20" width="73.30" height="11.00" fill="url(#cbg)" />
<text x="598.60" y="345.40" font-size="12.8" text-anchor="start" font-weight="bold" fill="#231f20" >305</text>
<text x="626.20" y="345.40" font-size="12.8" text-anchor="start" font-weight="bold" fill="#231f20" >T (K)</text>
<text x="664.50" y="345.40" font-size="12.8" text-anchor="start" font-weight="bold" fill="#231f20" >328</text>
<text x="16.40" y="379.80" font-size="13.5" text-anchor="start" font-weight="bold" fill="#231f20" >(h)</text>
<polygon points="216.00,440.40 250.00,408.90 250.00,446.90 216.00,478.40" fill="#d1a9c0" />
<polygon points="216.00,478.40 250.00,446.90 250.00,502.00 216.00,533.50" fill="#8fb0c7" />
<polygon points="12.30,435.00 216.00,440.40 216.00,478.40 12.30,473.90" fill="#ffd6ec" />
<polygon points="12.30,473.90 216.00,478.40 216.00,533.50 12.30,528.70" fill="#b9e4fc" />
<polygon points="12.30,435.00 44.00,404.00 250.00,408.90 216.00,440.40" fill="#a8728c" />
<polygon points="70.00,436.40 98.00,404.20 128.00,404.40 93.00,436.90" fill="#a8909a" />
<polygon points="134.00,437.60 170.00,405.30 198.00,405.80 165.50,438.40" fill="#a8909a" />
<polygon points="92.00,435.80 121.00,403.20 174.10,403.40 134.50,436.90" fill="#93b08e" />
<polygon points="92.00,435.80 134.50,436.90 134.50,439.60 92.00,438.50" fill="#bff2b4" />
<path d="M12.3,435 L62.6,436.4 L62.6,442.5 Q62.6,445.8 59,445.8 L16,445.2 Q12.3,445 12.3,441.5 Z" fill="#ff9fcd"/>
<path d="M165.2,439.3 L215.5,440.4 L215.5,446.5 Q215.5,449.8 212,449.8 L168.5,449.4 Q165.2,449.2 165.2,445.8 Z" fill="#ff9fcd"/>
<polygon points="52.90,408.20 79.40,387.60 79.40,410.10 52.90,430.70" fill="#9e9e9e" />
<path d="M35.6,404.7 L62.1,384.09999999999997 L75.9,384.09999999999997 Q79.4,384.09999999999997 79.4,387.59999999999997 L52.9,408.2 Q52.9,404.7 49.4,404.7 Z" fill="#9c9c9c"/>
<line x1="51.70" y1="405.90" x2="78.20" y2="385.30" stroke="#b8b8b8" stroke-width="1.2" opacity="0.7"/>
<path d="M32.1,430.7 L32.1,408.2 Q32.1,404.7 35.6,404.7 L49.4,404.7 Q52.9,404.7 52.9,408.2 L52.9,430.7 Z" fill="#d3d0d3"/>
<polygon points="130.90,407.70 157.90,386.70 157.90,408.90 130.90,429.90" fill="#9a5c52" />
<path d="M112.7,404.2 L139.7,383.2 L154.4,383.2 Q157.9,383.2 157.9,386.7 L130.9,407.7 Q130.9,404.2 127.4,404.2 Z" fill="#8a5850"/>
<line x1="129.70" y1="405.40" x2="156.70" y2="384.40" stroke="#a86a60" stroke-width="1.2" opacity="0.7"/>
<path d="M109.2,429.9 L109.2,407.7 Q109.2,404.2 112.7,404.2 L127.4,404.2 Q130.9,404.2 130.9,407.7 L130.9,429.9 Z" fill="#bb7364"/>
<polygon points="206.80,411.90 234.30,391.30 234.30,412.80 206.80,433.40" fill="#9e9e9e" />
<path d="M189.3,408.4 L216.8,387.79999999999995 L230.8,387.79999999999995 Q234.3,387.79999999999995 234.3,391.29999999999995 L206.8,411.9 Q206.8,408.4 203.3,408.4 Z" fill="#9c9c9c"/>
<line x1="205.60" y1="409.60" x2="233.10" y2="389.00" stroke="#b8b8b8" stroke-width="1.2" opacity="0.7"/>
<path d="M185.8,433.4 L185.8,411.9 Q185.8,408.4 189.3,408.4 L203.3,408.4 Q206.8,408.4 206.8,411.9 L206.8,433.4 Z" fill="#d3d0d3"/>
<text x="42.50" y="421.84" font-size="13.5" text-anchor="middle" font-weight="bold" fill="#111" >S</text>
<text x="120.10" y="421.84" font-size="13.5" text-anchor="middle" font-weight="bold" fill="#111" >G</text>
<text x="196.40" y="424.84" font-size="13.5" text-anchor="middle" font-weight="bold" fill="#111" >D</text>
<text x="33.60" y="444.80" font-size="14" text-anchor="start" font-weight="bold" fill="#7e7e7e" >n<tspan font-size="8.5" dy="-5.5">+</tspan></text>
<text x="188.80" y="448.80" font-size="14" text-anchor="start" font-weight="bold" fill="#7e7e7e" >n<tspan font-size="8.5" dy="-5.5">+</tspan></text>
<text x="133.40" y="436.62" font-size="14" text-anchor="start" font-weight="bold" fill="#231f20" >Al<tspan font-size="7.28" dy="0.70">2</tspan><tspan dy="-0.70">O</tspan><tspan font-size="7.28" dy="0.70">3</tspan><tspan dy="-0.70"></tspan></text>
<text x="91.20" y="467.62" font-size="14" text-anchor="start" font-weight="bold" fill="#231f20" >n-Ga<tspan font-size="7.28" dy="0.70">2</tspan><tspan dy="-0.70">O</tspan><tspan font-size="7.28" dy="0.70">3</tspan><tspan dy="-0.70"></tspan></text>
<text x="82.70" y="504.42" font-size="14" text-anchor="start" font-weight="bold" fill="#231f20" >Ga<tspan font-size="7.28" dy="0.70">2</tspan><tspan dy="-0.70">O</tspan><tspan font-size="7.28" dy="0.70">3</tspan><tspan dy="-0.70"></tspan>/SiC</text>
<text x="259.80" y="377.70" font-size="14.5" text-anchor="start" font-weight="bold" fill="#231f20" >(i)</text>
<rect x="293.90" y="377.00" width="179.00" height="37.30" fill="#02c8f2" />
<rect x="293.90" y="377.00" width="179.00" height="37.30" fill="url(#m1glow)" />
<rect x="311.10" y="365.20" width="29.20" height="11.80" fill="#cfcfcf" />
<rect x="376.90" y="365.20" width="12.50" height="11.80" fill="#c27464" />
<rect x="422.30" y="365.20" width="28.50" height="11.80" fill="#cfcfcf" />
<rect x="370.50" y="376.10" width="25.00" height="1.20" fill="#9ee890" />
<text x="325.70" y="375.25" font-size="11.2" text-anchor="middle" font-weight="bold" fill="#111" >S</text>
<text x="383.20" y="375.25" font-size="11.2" text-anchor="middle" font-weight="bold" fill="#111" >G</text>
<text x="436.50" y="375.25" font-size="11.2" text-anchor="middle" font-weight="bold" fill="#111" >D</text>
<line x1="293.90" y1="377.00" x2="293.90" y2="415.00" stroke="#111" stroke-width="1.4" />
<line x1="293.20" y1="414.30" x2="472.90" y2="414.30" stroke="#111" stroke-width="1.4" />
<line x1="472.90" y1="377.00" x2="472.90" y2="414.30" stroke="#444" stroke-width="0.6" />
<line x1="293.90" y1="377.00" x2="472.90" y2="377.00" stroke="#666" stroke-width="0.4" />
<line x1="293.90" y1="395.65" x2="296.40" y2="395.65" stroke="#111" stroke-width="1.2" />
<line x1="316.27" y1="414.30" x2="316.27" y2="412.70" stroke="#111" stroke-width="1.1" />
<line x1="338.65" y1="414.30" x2="338.65" y2="411.80" stroke="#111" stroke-width="1.1" />
<line x1="361.02" y1="414.30" x2="361.02" y2="412.70" stroke="#111" stroke-width="1.1" />
<line x1="383.40" y1="414.30" x2="383.40" y2="411.80" stroke="#111" stroke-width="1.1" />
<line x1="405.77" y1="414.30" x2="405.77" y2="412.70" stroke="#111" stroke-width="1.1" />
<line x1="428.15" y1="414.30" x2="428.15" y2="411.80" stroke="#111" stroke-width="1.1" />
<line x1="450.52" y1="414.30" x2="450.52" y2="412.70" stroke="#111" stroke-width="1.1" />
<text x="289.20" y="381.09" font-size="11.3" text-anchor="end" font-weight="bold" fill="#231f20" >0</text>
<text x="289.20" y="416.39" font-size="11.3" text-anchor="end" font-weight="bold" fill="#231f20" >3.0</text>
<circle cx="422.2" cy="379.20" r="6" fill="none" stroke="#e02030" stroke-width="1.3" stroke-dasharray="2.4 1.7"/>
<line x1="427" y1="374.40" x2="500" y2="376.70" stroke="#a8a8a8" stroke-width="1.1" stroke-dasharray="3 2.2"/>
<line x1="423.2" y1="385.60" x2="500" y2="414.30" stroke="#b0b0b0" stroke-width="1.1" stroke-dasharray="3 2.2"/>
<rect x="293.90" y="434.10" width="179.00" height="36.90" fill="#02c8f2" />
<rect x="293.90" y="434.10" width="179.00" height="36.90" fill="url(#m2glow)" />
<rect x="311.10" y="422.30" width="29.20" height="11.80" fill="#cfcfcf" />
<rect x="376.90" y="422.30" width="12.50" height="11.80" fill="#c27464" />
<rect x="422.30" y="422.30" width="28.50" height="11.80" fill="#cfcfcf" />
<rect x="370.50" y="433.20" width="25.00" height="1.20" fill="#9ee890" />
<text x="325.70" y="432.35" font-size="11.2" text-anchor="middle" font-weight="bold" fill="#111" >S</text>
<text x="383.20" y="432.35" font-size="11.2" text-anchor="middle" font-weight="bold" fill="#111" >G</text>
<text x="436.50" y="432.35" font-size="11.2" text-anchor="middle" font-weight="bold" fill="#111" >D</text>
<line x1="293.90" y1="434.10" x2="293.90" y2="471.70" stroke="#111" stroke-width="1.4" />
<line x1="293.20" y1="471.00" x2="472.90" y2="471.00" stroke="#111" stroke-width="1.4" />
<line x1="472.90" y1="434.10" x2="472.90" y2="471.00" stroke="#444" stroke-width="0.6" />
<line x1="293.90" y1="434.10" x2="472.90" y2="434.10" stroke="#666" stroke-width="0.4" />
<line x1="293.90" y1="452.55" x2="296.40" y2="452.55" stroke="#111" stroke-width="1.2" />
<line x1="316.27" y1="471.00" x2="316.27" y2="469.40" stroke="#111" stroke-width="1.1" />
<line x1="338.65" y1="471.00" x2="338.65" y2="468.50" stroke="#111" stroke-width="1.1" />
<line x1="361.02" y1="471.00" x2="361.02" y2="469.40" stroke="#111" stroke-width="1.1" />
<line x1="383.40" y1="471.00" x2="383.40" y2="468.50" stroke="#111" stroke-width="1.1" />
<line x1="405.77" y1="471.00" x2="405.77" y2="469.40" stroke="#111" stroke-width="1.1" />
<line x1="428.15" y1="471.00" x2="428.15" y2="468.50" stroke="#111" stroke-width="1.1" />
<line x1="450.52" y1="471.00" x2="450.52" y2="469.40" stroke="#111" stroke-width="1.1" />
<text x="289.20" y="438.19" font-size="11.3" text-anchor="end" font-weight="bold" fill="#231f20" >0</text>
<text x="289.20" y="473.09" font-size="11.3" text-anchor="end" font-weight="bold" fill="#231f20" >3.0</text>
<circle cx="422.2" cy="436.30" r="6" fill="none" stroke="#e02030" stroke-width="1.3" stroke-dasharray="2.4 1.7"/>
<line x1="427" y1="431.50" x2="500" y2="433.80" stroke="#a8a8a8" stroke-width="1.1" stroke-dasharray="3 2.2"/>
<line x1="423.2" y1="442.70" x2="500" y2="471.00" stroke="#b0b0b0" stroke-width="1.1" stroke-dasharray="3 2.2"/>
<rect x="293.90" y="492.20" width="179.00" height="36.90" fill="#74c8f2" />
<rect x="293.90" y="492.20" width="179.00" height="36.90" fill="url(#m3halo)" />
<rect x="293.90" y="492.20" width="179.00" height="36.90" fill="url(#m3glow)" />
<rect x="311.10" y="480.40" width="29.20" height="11.80" fill="#cfcfcf" />
<rect x="376.90" y="480.40" width="12.50" height="11.80" fill="#c27464" />
<rect x="422.30" y="480.40" width="28.50" height="11.80" fill="#cfcfcf" />
<rect x="370.50" y="491.30" width="25.00" height="1.20" fill="#9ee890" />
<text x="325.70" y="490.45" font-size="11.2" text-anchor="middle" font-weight="bold" fill="#111" >S</text>
<text x="383.20" y="490.45" font-size="11.2" text-anchor="middle" font-weight="bold" fill="#111" >G</text>
<text x="436.50" y="490.45" font-size="11.2" text-anchor="middle" font-weight="bold" fill="#111" >D</text>
<line x1="293.90" y1="492.20" x2="293.90" y2="529.80" stroke="#111" stroke-width="1.4" />
<line x1="293.20" y1="529.10" x2="472.90" y2="529.10" stroke="#111" stroke-width="1.4" />
<line x1="472.90" y1="492.20" x2="472.90" y2="529.10" stroke="#444" stroke-width="0.6" />
<line x1="293.90" y1="492.20" x2="472.90" y2="492.20" stroke="#666" stroke-width="0.4" />
<line x1="293.90" y1="510.65" x2="296.40" y2="510.65" stroke="#111" stroke-width="1.2" />
<line x1="316.27" y1="529.10" x2="316.27" y2="527.50" stroke="#111" stroke-width="1.1" />
<line x1="338.65" y1="529.10" x2="338.65" y2="526.60" stroke="#111" stroke-width="1.1" />
<line x1="361.02" y1="529.10" x2="361.02" y2="527.50" stroke="#111" stroke-width="1.1" />
<line x1="383.40" y1="529.10" x2="383.40" y2="526.60" stroke="#111" stroke-width="1.1" />
<line x1="405.77" y1="529.10" x2="405.77" y2="527.50" stroke="#111" stroke-width="1.1" />
<line x1="428.15" y1="529.10" x2="428.15" y2="526.60" stroke="#111" stroke-width="1.1" />
<line x1="450.52" y1="529.10" x2="450.52" y2="527.50" stroke="#111" stroke-width="1.1" />
<text x="289.20" y="496.29" font-size="11.3" text-anchor="end" font-weight="bold" fill="#231f20" >0</text>
<text x="289.20" y="531.19" font-size="11.3" text-anchor="end" font-weight="bold" fill="#231f20" >3.0</text>
<circle cx="422.2" cy="494.40" r="6" fill="none" stroke="#e02030" stroke-width="1.3" stroke-dasharray="2.4 1.7"/>
<line x1="427" y1="489.60" x2="500" y2="491.90" stroke="#a8a8a8" stroke-width="1.1" stroke-dasharray="3 2.2"/>
<line x1="423.2" y1="500.80" x2="500" y2="529.10" stroke="#b0b0b0" stroke-width="1.1" stroke-dasharray="3 2.2"/>
<text x="297.90" y="406.32" font-size="10.8" text-anchor="start" font-weight="bold" fill="#1a1a30" >SiC substrate</text>
<text x="387.70" y="406.71" font-size="10.5" text-anchor="start" font-weight="bold" fill="#1a1a30" >ITC = 162.1</text>
<text x="297.90" y="465.72" font-size="10.8" text-anchor="start" font-weight="bold" fill="#1a1a30" >SiC substrate</text>
<text x="387.70" y="466.11" font-size="10.5" text-anchor="start" font-weight="bold" fill="#1a1a30" >ITC = 17.5</text>
<text x="297.70" y="523.42" font-size="10.8" text-anchor="start" font-weight="bold" fill="#1a1a30" >Ga<tspan font-size="5.62" dy="0.54">2</tspan><tspan dy="-0.54">O</tspan><tspan font-size="5.62" dy="0.54">3</tspan><tspan dy="-0.54"></tspan> substrate</text>
<text x="293.90" y="538.69" font-size="11.3" text-anchor="middle" font-weight="bold" fill="#231f20" >-20</text>
<text x="338.65" y="538.69" font-size="11.3" text-anchor="middle" font-weight="bold" fill="#231f20" >-10</text>
<text x="383.40" y="538.69" font-size="11.3" text-anchor="middle" font-weight="bold" fill="#231f20" >0</text>
<text x="428.15" y="538.69" font-size="11.3" text-anchor="middle" font-weight="bold" fill="#231f20" >10</text>
<text x="472.90" y="538.69" font-size="11.3" text-anchor="middle" font-weight="bold" fill="#231f20" >20</text>
<text transform="translate(270.9,457.7) rotate(-90)" font-size="12.2" font-weight="bold" text-anchor="middle" fill="#231f20">Y (&#181;m)</text>
<text x="474.00" y="550.96" font-size="11.5" text-anchor="start" font-weight="bold" fill="#231f20" >X (&#181;m)</text>
<rect x="500.00" y="376.60" width="157.00" height="22.60" fill="url(#zbg0)" />
<rect x="500.00" y="376.60" width="157.00" height="22.60" fill="url(#hot0)" />
<rect x="500.00" y="399.20" width="157.00" height="14.90" fill="url(#sic0)" />
<line x1="500" y1="399.2" x2="657" y2="399.2" stroke="#3a4a58" stroke-width="1" stroke-dasharray="5 3.2"/>
<rect x="500" y="376.6" width="157" height="37.5" fill="none" stroke="#111" stroke-width="1.3"/>
<line x1="531.70" y1="414.10" x2="531.70" y2="411.90" stroke="#111" stroke-width="1.1" />
<line x1="563.00" y1="414.10" x2="563.00" y2="412.60" stroke="#111" stroke-width="1.1" />
<line x1="594.30" y1="414.10" x2="594.30" y2="411.90" stroke="#111" stroke-width="1.1" />
<line x1="625.60" y1="414.10" x2="625.60" y2="412.60" stroke="#111" stroke-width="1.1" />
<line x1="500.00" y1="399.10" x2="502.20" y2="399.10" stroke="#111" stroke-width="1.1" />
<text x="496.70" y="380.69" font-size="11.3" text-anchor="end" font-weight="bold" fill="#231f20" >0</text>
<text x="496.70" y="401.79" font-size="11.3" text-anchor="end" font-weight="bold" fill="#231f20" >0.3</text>
<rect x="500.00" y="433.20" width="157.00" height="22.00" fill="url(#zbg1)" />
<rect x="500.00" y="433.20" width="157.00" height="22.00" fill="url(#hot1)" />
<rect x="500.00" y="455.20" width="157.00" height="15.80" fill="url(#sic1)" />
<line x1="500" y1="455.2" x2="657" y2="455.2" stroke="#3a4a58" stroke-width="1" stroke-dasharray="5 3.2"/>
<rect x="500" y="433.2" width="157" height="37.80000000000001" fill="none" stroke="#111" stroke-width="1.3"/>
<line x1="531.70" y1="471.00" x2="531.70" y2="468.80" stroke="#111" stroke-width="1.1" />
<line x1="563.00" y1="471.00" x2="563.00" y2="469.50" stroke="#111" stroke-width="1.1" />
<line x1="594.30" y1="471.00" x2="594.30" y2="468.80" stroke="#111" stroke-width="1.1" />
<line x1="625.60" y1="471.00" x2="625.60" y2="469.50" stroke="#111" stroke-width="1.1" />
<line x1="500.00" y1="455.88" x2="502.20" y2="455.88" stroke="#111" stroke-width="1.1" />
<text x="496.70" y="437.29" font-size="11.3" text-anchor="end" font-weight="bold" fill="#231f20" >0</text>
<text x="496.70" y="458.57" font-size="11.3" text-anchor="end" font-weight="bold" fill="#231f20" >0.3</text>
<rect x="500.00" y="491.50" width="157.00" height="37.60" fill="url(#zbg2)" />
<rect x="500.00" y="491.50" width="157.00" height="37.60" fill="url(#hot2)" />
<rect x="500" y="491.5" width="157" height="37.60000000000002" fill="none" stroke="#111" stroke-width="1.3"/>
<line x1="531.70" y1="529.10" x2="531.70" y2="526.90" stroke="#111" stroke-width="1.1" />
<line x1="563.00" y1="529.10" x2="563.00" y2="527.60" stroke="#111" stroke-width="1.1" />
<line x1="594.30" y1="529.10" x2="594.30" y2="526.90" stroke="#111" stroke-width="1.1" />
<line x1="625.60" y1="529.10" x2="625.60" y2="527.60" stroke="#111" stroke-width="1.1" />
<line x1="500.00" y1="514.06" x2="502.20" y2="514.06" stroke="#111" stroke-width="1.1" />
<text x="496.70" y="495.59" font-size="11.3" text-anchor="end" font-weight="bold" fill="#231f20" >0</text>
<text x="496.70" y="516.75" font-size="11.3" text-anchor="end" font-weight="bold" fill="#231f20" >0.3</text>
<text x="503.90" y="394.22" font-size="10.8" text-anchor="start" font-weight="bold" fill="#1a1a20" >Ga<tspan font-size="5.62" dy="0.54">2</tspan><tspan dy="-0.54">O</tspan><tspan font-size="5.62" dy="0.54">3</tspan><tspan dy="-0.54"></tspan></text>
<text x="508.90" y="408.72" font-size="10.8" text-anchor="start" font-weight="bold" fill="#1a1a20" >SiC</text>
<text x="602.20" y="401.58" font-size="11" text-anchor="start" font-weight="bold" fill="#ffffff" >Interface</text>
<text x="503.90" y="450.72" font-size="10.8" text-anchor="start" font-weight="bold" fill="#1a1a20" >Ga<tspan font-size="5.62" dy="0.54">2</tspan><tspan dy="-0.54">O</tspan><tspan font-size="5.62" dy="0.54">3</tspan><tspan dy="-0.54"></tspan></text>
<text x="508.90" y="466.22" font-size="10.8" text-anchor="start" font-weight="bold" fill="#1a1a20" >SiC</text>
<text x="602.20" y="458.78" font-size="11" text-anchor="start" font-weight="bold" fill="#ffffff" >Interface</text>
<text x="507.00" y="518.22" font-size="10.8" text-anchor="start" font-weight="bold" fill="#1a1a20" >Ga<tspan font-size="5.62" dy="0.54">2</tspan><tspan dy="-0.54">O</tspan><tspan font-size="5.62" dy="0.54">3</tspan><tspan dy="-0.54"></tspan></text>
<text x="530.20" y="538.29" font-size="11.3" text-anchor="middle" font-weight="bold" fill="#231f20" >8</text>
<text x="592.80" y="538.29" font-size="11.3" text-anchor="middle" font-weight="bold" fill="#231f20" >9</text>
<text x="653.90" y="538.29" font-size="11.3" text-anchor="middle" font-weight="bold" fill="#231f20" >10</text>
<rect x="666.20" y="383.20" width="12.40" height="130.30" fill="url(#cbi)" />
<text x="658.70" y="381.09" font-size="11.3" text-anchor="start" font-weight="bold" fill="#231f20" >1200</text>
<text x="663.50" y="523.19" font-size="11.6" text-anchor="start" font-weight="bold" fill="#231f20" >260</text>
<text transform="translate(675.8,455.7) rotate(-90)" font-size="11.6" font-weight="bold" text-anchor="middle" fill="#231f20">T (K)</text>
<line x1="57.00" y1="712.40" x2="60.00" y2="712.40" stroke="#000" stroke-width="1.2" />
<line x1="57.00" y1="683.18" x2="60.00" y2="683.18" stroke="#000" stroke-width="1.2" />
<line x1="57.00" y1="653.96" x2="60.00" y2="653.96" stroke="#000" stroke-width="1.2" />
<line x1="57.00" y1="624.74" x2="60.00" y2="624.74" stroke="#000" stroke-width="1.2" />
<line x1="57.00" y1="595.52" x2="60.00" y2="595.52" stroke="#000" stroke-width="1.2" />
<line x1="57.00" y1="566.30" x2="60.00" y2="566.30" stroke="#000" stroke-width="1.2" />
<line x1="57.00" y1="697.79" x2="58.80" y2="697.79" stroke="#000" stroke-width="1.2" />
<line x1="57.00" y1="668.57" x2="58.80" y2="668.57" stroke="#000" stroke-width="1.2" />
<line x1="57.00" y1="639.35" x2="58.80" y2="639.35" stroke="#000" stroke-width="1.2" />
<line x1="57.00" y1="610.13" x2="58.80" y2="610.13" stroke="#000" stroke-width="1.2" />
<line x1="57.00" y1="580.91" x2="58.80" y2="580.91" stroke="#000" stroke-width="1.2" />
<line x1="57.00" y1="712.40" x2="57.00" y2="709.40" stroke="#000" stroke-width="1.2" />
<line x1="91.78" y1="712.40" x2="91.78" y2="709.40" stroke="#000" stroke-width="1.2" />
<line x1="126.56" y1="712.40" x2="126.56" y2="709.40" stroke="#000" stroke-width="1.2" />
<line x1="161.34" y1="712.40" x2="161.34" y2="709.40" stroke="#000" stroke-width="1.2" />
<line x1="196.12" y1="712.40" x2="196.12" y2="709.40" stroke="#000" stroke-width="1.2" />
<line x1="230.90" y1="712.40" x2="230.90" y2="709.40" stroke="#000" stroke-width="1.2" />
<line x1="74.39" y1="712.40" x2="74.39" y2="710.60" stroke="#000" stroke-width="1.2" />
<line x1="109.17" y1="712.40" x2="109.17" y2="710.60" stroke="#000" stroke-width="1.2" />
<line x1="143.95" y1="712.40" x2="143.95" y2="710.60" stroke="#000" stroke-width="1.2" />
<line x1="178.73" y1="712.40" x2="178.73" y2="710.60" stroke="#000" stroke-width="1.2" />
<line x1="213.51" y1="712.40" x2="213.51" y2="710.60" stroke="#000" stroke-width="1.2" />
<path d="M57.00,712.40 C57.43,709.96 58.65,702.95 59.61,697.79 C60.56,692.63 61.55,687.32 62.74,681.43 C63.93,675.53 65.09,669.79 66.74,662.43 C68.39,655.08 70.68,644.22 72.65,637.30 C74.62,630.39 76.27,626.15 78.56,620.94 C80.85,615.73 83.78,610.13 86.39,606.04 C89.00,601.95 91.29,598.98 94.21,596.40 C97.14,593.82 100.68,591.96 103.95,590.55 C107.23,589.14 110.59,588.34 113.87,587.92 C117.14,587.51 120.04,587.83 123.60,588.07 C127.17,588.31 131.86,589.02 135.25,589.38 C138.65,589.75 139.60,589.58 143.95,590.26 C148.30,590.94 155.54,592.21 161.34,593.47 C167.14,594.74 172.93,596.25 178.73,597.86 C184.53,599.46 190.32,601.36 196.12,603.12 C201.92,604.87 207.71,606.67 213.51,608.38 C219.31,610.08 228.00,612.52 230.90,613.34" fill="none" stroke="#e0666e" stroke-width="2.0" stroke-linecap="round" stroke-linejoin="round" />
<path d="M57.00,712.40 C57.43,710.26 58.65,704.12 59.61,699.54 C60.56,694.97 61.23,691.46 62.74,684.93 C64.25,678.41 66.68,667.50 68.65,660.39 C70.62,653.28 72.27,647.39 74.56,642.27 C76.85,637.16 79.78,633.02 82.39,629.71 C85.00,626.40 87.78,624.16 90.21,622.40 C92.65,620.65 95.03,619.80 97.00,619.19 C98.97,618.58 100.30,618.51 102.04,618.75 C103.78,618.99 105.49,619.65 107.43,620.65 C109.37,621.65 111.66,623.47 113.69,624.74 C115.72,626.01 117.46,627.08 119.60,628.25 C121.75,629.42 123.95,630.58 126.56,631.75 C129.17,632.92 132.36,634.09 135.25,635.26 C138.15,636.43 139.60,637.01 143.95,638.77 C148.30,640.52 155.54,643.68 161.34,645.78 C167.14,647.87 172.93,649.67 178.73,651.33 C184.53,652.99 190.32,654.40 196.12,655.71 C201.92,657.03 207.71,658.20 213.51,659.22 C219.31,660.24 228.00,661.41 230.90,661.85" fill="none" stroke="#78c0be" stroke-width="2.0" stroke-linecap="round" stroke-linejoin="round" />
<path d="M57.00,712.40 C57.43,710.26 58.65,704.12 59.61,699.54 C60.56,694.97 61.23,691.46 62.74,684.93 C64.25,678.41 66.68,667.50 68.65,660.39 C70.62,653.28 72.27,647.39 74.56,642.27 C76.85,637.16 79.78,632.97 82.39,629.71 C85.00,626.44 87.78,624.33 90.21,622.69 C92.65,621.06 95.00,620.26 97.00,619.92 C99.00,619.58 100.47,620.14 102.21,620.65 C103.95,621.16 105.52,621.87 107.43,622.99 C109.34,624.11 111.66,626.05 113.69,627.37 C115.72,628.68 117.46,629.61 119.60,630.88 C121.75,632.14 123.95,633.60 126.56,634.97 C129.17,636.33 132.36,637.74 135.25,639.06 C138.15,640.37 139.60,641.01 143.95,642.86 C148.30,644.71 155.54,647.97 161.34,650.16 C167.14,652.35 172.93,654.15 178.73,656.01 C184.53,657.86 190.32,659.66 196.12,661.26 C201.92,662.87 207.71,664.28 213.51,665.65 C219.31,667.01 228.00,668.81 230.90,669.45" fill="none" stroke="#6a6a6a" stroke-width="2.0" stroke-linecap="round" stroke-linejoin="round" />
<rect x="57" y="566.3" width="173.9" height="146.10000000000002" fill="none" stroke="#000" stroke-width="1.5"/>
<line x1="72.60" y1="676.50" x2="90.60" y2="676.50" stroke="#e0666e" stroke-width="2.3" />
<line x1="72.60" y1="689.20" x2="90.60" y2="689.20" stroke="#78c0be" stroke-width="2.3" />
<line x1="72.60" y1="702.20" x2="90.60" y2="702.20" stroke="#555" stroke-width="2.3" />
<text x="96.90" y="680.56" font-size="11.8" text-anchor="start" font-weight="bold" fill="#231f20" >ITC = 162.1 MW/m<tspan font-size="7" dy="-4">2</tspan><tspan dy="4">&#183;K</tspan></text>
<text x="96.90" y="693.26" font-size="11.8" text-anchor="start" font-weight="bold" fill="#231f20" >ITC = 17.5 MW/m<tspan font-size="7" dy="-4">2</tspan><tspan dy="4">&#183;K</tspan></text>
<text x="96.90" y="706.26" font-size="11.8" text-anchor="start" font-weight="bold" fill="#231f20" >Pure Ga<tspan font-size="6.14" dy="0.59">2</tspan><tspan dy="-0.59">O</tspan><tspan font-size="6.14" dy="0.59">3</tspan><tspan dy="-0.59"></tspan></text>
<text x="165.70" y="582.30" font-size="12.5" text-anchor="start" font-weight="bold" fill="#231f20" font-style="italic">V</text>
<text x="174.00" y="584.50" font-size="9" text-anchor="start" font-weight="bold" fill="#231f20" >GS</text>
<text x="192.70" y="582.30" font-size="12.5" text-anchor="start" font-weight="bold" fill="#231f20" >= 10 V</text>
<text x="53.90" y="716.80" font-size="12.2" text-anchor="end" font-weight="bold" fill="#231f20" >0</text>
<text x="53.90" y="687.58" font-size="12.2" text-anchor="end" font-weight="bold" fill="#231f20" >100</text>
<text x="53.90" y="658.36" font-size="12.2" text-anchor="end" font-weight="bold" fill="#231f20" >200</text>
<text x="53.90" y="629.14" font-size="12.2" text-anchor="end" font-weight="bold" fill="#231f20" >300</text>
<text x="53.90" y="599.92" font-size="12.2" text-anchor="end" font-weight="bold" fill="#231f20" >400</text>
<text x="53.90" y="570.70" font-size="12.2" text-anchor="end" font-weight="bold" fill="#231f20" >500</text>
<text x="57.00" y="725.00" font-size="12.2" text-anchor="middle" font-weight="bold" fill="#231f20" >0</text>
<text x="91.78" y="725.00" font-size="12.2" text-anchor="middle" font-weight="bold" fill="#231f20" >20</text>
<text x="126.56" y="725.00" font-size="12.2" text-anchor="middle" font-weight="bold" fill="#231f20" >40</text>
<text x="161.34" y="725.00" font-size="12.2" text-anchor="middle" font-weight="bold" fill="#231f20" >60</text>
<text x="196.12" y="725.00" font-size="12.2" text-anchor="middle" font-weight="bold" fill="#231f20" >80</text>
<text x="230.90" y="725.00" font-size="12.2" text-anchor="middle" font-weight="bold" fill="#231f20" >100</text>
<text x="134.60" y="736.69" font-size="11.6" text-anchor="middle" font-weight="bold" fill="#231f20" >Voltage (V)</text>
<text transform="translate(27.9,642.3) rotate(-90)" font-size="11.5" font-weight="bold" text-anchor="middle" fill="#231f20">Current (mA/mm)</text>
<text x="10.60" y="575.00" font-size="14" text-anchor="start" font-weight="bold" fill="#231f20" >(j)</text>
<line x1="286.30" y1="704.00" x2="289.30" y2="704.00" stroke="#000" stroke-width="1.2" />
<line x1="286.30" y1="660.90" x2="289.30" y2="660.90" stroke="#000" stroke-width="1.2" />
<line x1="286.30" y1="617.80" x2="289.30" y2="617.80" stroke="#000" stroke-width="1.2" />
<line x1="286.30" y1="574.70" x2="289.30" y2="574.70" stroke="#000" stroke-width="1.2" />
<line x1="286.30" y1="682.45" x2="288.10" y2="682.45" stroke="#000" stroke-width="1.2" />
<line x1="286.30" y1="639.35" x2="288.10" y2="639.35" stroke="#000" stroke-width="1.2" />
<line x1="286.30" y1="596.25" x2="288.10" y2="596.25" stroke="#000" stroke-width="1.2" />
<line x1="291.90" y1="712.60" x2="291.90" y2="709.60" stroke="#000" stroke-width="1.2" />
<line x1="323.18" y1="712.60" x2="323.18" y2="709.60" stroke="#000" stroke-width="1.2" />
<line x1="354.46" y1="712.60" x2="354.46" y2="709.60" stroke="#000" stroke-width="1.2" />
<line x1="385.74" y1="712.60" x2="385.74" y2="709.60" stroke="#000" stroke-width="1.2" />
<line x1="417.02" y1="712.60" x2="417.02" y2="709.60" stroke="#000" stroke-width="1.2" />
<line x1="448.30" y1="712.60" x2="448.30" y2="709.60" stroke="#000" stroke-width="1.2" />
<line x1="307.54" y1="712.60" x2="307.54" y2="710.80" stroke="#000" stroke-width="1.2" />
<line x1="338.82" y1="712.60" x2="338.82" y2="710.80" stroke="#000" stroke-width="1.2" />
<line x1="370.10" y1="712.60" x2="370.10" y2="710.80" stroke="#000" stroke-width="1.2" />
<line x1="401.38" y1="712.60" x2="401.38" y2="710.80" stroke="#000" stroke-width="1.2" />
<line x1="432.66" y1="712.60" x2="432.66" y2="710.80" stroke="#000" stroke-width="1.2" />
<path d="M295.50,701.20 C295.97,697.97 297.28,688.10 298.30,681.80 C299.32,675.50 300.33,670.05 301.60,663.40 C302.87,656.75 304.28,648.35 305.90,641.90 C307.52,635.45 309.33,629.73 311.30,624.70 C313.27,619.67 315.37,615.48 317.70,611.70 C320.03,607.92 322.60,604.52 325.30,602.00 C328.00,599.48 330.93,598.03 333.90,596.60 C336.87,595.17 339.52,594.37 343.10,593.40 C346.68,592.43 349.25,591.70 355.40,590.80 C361.55,589.90 370.90,588.77 380.00,588.00 C389.10,587.23 398.57,586.78 410.00,586.20 C421.43,585.62 442.17,584.78 448.60,584.50" fill="none" stroke="#000" stroke-width="2.2" stroke-linecap="round" stroke-linejoin="round" />
<rect x="286.3" y="565.9" width="167.7" height="146.70000000000005" fill="none" stroke="#000" stroke-width="1.5"/>
<circle cx="343.10" cy="593.40" r="4.20" fill="#de7278" />
<circle cx="298.30" cy="681.80" r="4.20" fill="#8cc6c2" />
<circle cx="320.60" cy="663.10" r="4.20" fill="#de7278" />
<circle cx="320.60" cy="683.60" r="4.20" fill="#8cc6c2" />
<text x="330.70" y="667.16" font-size="11.8" text-anchor="start" font-weight="bold" fill="#231f20" >ITC = 162.1 MW/m<tspan font-size="7" dy="-4">2</tspan><tspan dy="4">&#183;K</tspan></text>
<text x="330.70" y="687.66" font-size="11.8" text-anchor="start" font-weight="bold" fill="#231f20" >ITC = 17.5 MW/m<tspan font-size="7" dy="-4">2</tspan><tspan dy="4">&#183;K</tspan></text>
<text x="282.70" y="708.33" font-size="12" text-anchor="end" font-weight="bold" fill="#231f20" >300</text>
<text x="282.70" y="665.23" font-size="12" text-anchor="end" font-weight="bold" fill="#231f20" >350</text>
<text x="282.70" y="622.13" font-size="12" text-anchor="end" font-weight="bold" fill="#231f20" >400</text>
<text x="282.70" y="579.03" font-size="12" text-anchor="end" font-weight="bold" fill="#231f20" >450</text>
<text x="291.90" y="725.33" font-size="12" text-anchor="middle" font-weight="bold" fill="#231f20" >0</text>
<text x="323.18" y="725.33" font-size="12" text-anchor="middle" font-weight="bold" fill="#231f20" >100</text>
<text x="354.46" y="725.33" font-size="12" text-anchor="middle" font-weight="bold" fill="#231f20" >200</text>
<text x="385.74" y="725.33" font-size="12" text-anchor="middle" font-weight="bold" fill="#231f20" >300</text>
<text x="417.02" y="725.33" font-size="12" text-anchor="middle" font-weight="bold" fill="#231f20" >400</text>
<text x="448.30" y="725.33" font-size="12" text-anchor="middle" font-weight="bold" fill="#231f20" >500</text>
<text x="366.00" y="738.66" font-size="11.8" text-anchor="middle" font-weight="bold" fill="#231f20" >ITC (MW/m<tspan font-size="7" dy="-4">2</tspan><tspan dy="4">&#183;K)</tspan></text>
<text transform="translate(259.4,645.6) rotate(-90)" font-size="11.8" font-weight="bold" text-anchor="middle" fill="#231f20">Max Current (mA/mm)</text>
<text x="245.00" y="575.00" font-size="14" text-anchor="start" font-weight="bold" fill="#231f20" >(k)</text>
<line x1="511.80" y1="704.60" x2="514.80" y2="704.60" stroke="#000" stroke-width="1.2" />
<line x1="511.80" y1="670.30" x2="514.80" y2="670.30" stroke="#000" stroke-width="1.2" />
<line x1="511.80" y1="636.00" x2="514.80" y2="636.00" stroke="#000" stroke-width="1.2" />
<line x1="511.80" y1="601.70" x2="514.80" y2="601.70" stroke="#000" stroke-width="1.2" />
<line x1="511.80" y1="567.40" x2="514.80" y2="567.40" stroke="#000" stroke-width="1.2" />
<line x1="511.80" y1="687.45" x2="513.60" y2="687.45" stroke="#000" stroke-width="1.2" />
<line x1="511.80" y1="653.15" x2="513.60" y2="653.15" stroke="#000" stroke-width="1.2" />
<line x1="511.80" y1="618.85" x2="513.60" y2="618.85" stroke="#000" stroke-width="1.2" />
<line x1="511.80" y1="584.55" x2="513.60" y2="584.55" stroke="#000" stroke-width="1.2" />
<line x1="517.20" y1="712.80" x2="517.20" y2="709.80" stroke="#000" stroke-width="1.2" />
<line x1="548.29" y1="712.80" x2="548.29" y2="709.80" stroke="#000" stroke-width="1.2" />
<line x1="579.38" y1="712.80" x2="579.38" y2="709.80" stroke="#000" stroke-width="1.2" />
<line x1="610.47" y1="712.80" x2="610.47" y2="709.80" stroke="#000" stroke-width="1.2" />
<line x1="641.56" y1="712.80" x2="641.56" y2="709.80" stroke="#000" stroke-width="1.2" />
<line x1="672.65" y1="712.80" x2="672.65" y2="709.80" stroke="#000" stroke-width="1.2" />
<line x1="532.75" y1="712.80" x2="532.75" y2="711.00" stroke="#000" stroke-width="1.2" />
<line x1="563.84" y1="712.80" x2="563.84" y2="711.00" stroke="#000" stroke-width="1.2" />
<line x1="594.93" y1="712.80" x2="594.93" y2="711.00" stroke="#000" stroke-width="1.2" />
<line x1="626.02" y1="712.80" x2="626.02" y2="711.00" stroke="#000" stroke-width="1.2" />
<line x1="657.11" y1="712.80" x2="657.11" y2="711.00" stroke="#000" stroke-width="1.2" />
<path d="M520.60,571.80 C521.05,572.90 522.07,575.95 523.30,578.40 C524.53,580.85 526.28,583.82 528.00,586.50 C529.72,589.18 531.60,591.83 533.60,594.50 C535.60,597.17 537.55,599.67 540.00,602.50 C542.45,605.33 545.47,608.67 548.30,611.50 C551.13,614.33 553.85,616.78 557.00,619.50 C560.15,622.22 562.62,624.85 567.20,627.80 C571.78,630.75 577.53,634.20 584.50,637.20 C591.47,640.20 600.83,643.72 609.00,645.80 C617.17,647.88 622.80,648.60 633.50,649.70 C644.20,650.80 666.58,651.95 673.20,652.40" fill="none" stroke="#000" stroke-width="2.2" stroke-linecap="round" stroke-linejoin="round" />
<path d="M520.60,638.00 C521.05,639.72 521.95,643.72 523.30,648.30 C524.65,652.88 527.08,660.88 528.70,665.50 C530.32,670.12 531.37,672.77 533.00,676.00 C534.63,679.23 536.67,682.57 538.50,684.90 C540.33,687.23 541.95,688.53 544.00,690.00 C546.05,691.47 548.47,692.70 550.80,693.70 C553.13,694.70 555.27,695.35 558.00,696.00 C560.73,696.65 562.78,697.10 567.20,697.60 C571.62,698.10 575.70,698.67 584.50,699.00 C593.30,699.33 605.22,699.48 620.00,699.60 C634.78,699.72 664.33,699.68 673.20,699.70" fill="none" stroke="#8a8a8a" stroke-width="2.2" stroke-linecap="round" stroke-linejoin="round" />
<rect x="511.8" y="565.0" width="166.7" height="147.79999999999995" fill="none" stroke="#000" stroke-width="1.5"/>
<circle cx="523.30" cy="578.40" r="4.20" fill="#de7278" />
<circle cx="567.60" cy="629.00" r="4.20" fill="#de7278" />
<circle cx="523.30" cy="648.30" r="4.20" fill="#8cc6c2" />
<circle cx="567.60" cy="697.80" r="4.20" fill="#8cc6c2" />
<circle cx="545.00" cy="580.40" r="4.20" fill="#de7278" />
<circle cx="545.00" cy="670.30" r="4.20" fill="#8cc6c2" />
<text x="555.70" y="584.66" font-size="11.8" text-anchor="start" font-weight="bold" fill="#231f20" >ITC = 162.1 MW/m<tspan font-size="7" dy="-4">2</tspan><tspan dy="4">&#183;K</tspan></text>
<text x="555.70" y="674.36" font-size="11.8" text-anchor="start" font-weight="bold" fill="#231f20" >ITC = 17.5 MW/m<tspan font-size="7" dy="-4">2</tspan><tspan dy="4">&#183;K</tspan></text>
<text x="631.60" y="642.46" font-size="11.8" text-anchor="start" font-weight="bold" fill="#231f20" >100 V</text>
<text x="634.30" y="696.46" font-size="11.8" text-anchor="start" font-weight="bold" fill="#8e8e8e" >50 V</text>
<text x="508.80" y="708.93" font-size="12" text-anchor="end" font-weight="bold" fill="#231f20" >0</text>
<text x="508.80" y="674.63" font-size="12" text-anchor="end" font-weight="bold" fill="#231f20" >40</text>
<text x="508.80" y="640.33" font-size="12" text-anchor="end" font-weight="bold" fill="#231f20" >80</text>
<text x="508.80" y="606.03" font-size="12" text-anchor="end" font-weight="bold" fill="#231f20" >120</text>
<text x="508.80" y="571.73" font-size="12" text-anchor="end" font-weight="bold" fill="#231f20" >160</text>
<text x="517.20" y="725.73" font-size="12" text-anchor="middle" font-weight="bold" fill="#231f20" >0</text>
<text x="548.29" y="725.73" font-size="12" text-anchor="middle" font-weight="bold" fill="#231f20" >100</text>
<text x="579.38" y="725.73" font-size="12" text-anchor="middle" font-weight="bold" fill="#231f20" >200</text>
<text x="610.47" y="725.73" font-size="12" text-anchor="middle" font-weight="bold" fill="#231f20" >300</text>
<text x="641.56" y="725.73" font-size="12" text-anchor="middle" font-weight="bold" fill="#231f20" >400</text>
<text x="672.65" y="725.73" font-size="12" text-anchor="middle" font-weight="bold" fill="#231f20" >500</text>
<text x="600.30" y="739.26" font-size="11.8" text-anchor="middle" font-weight="bold" fill="#231f20" >ITC (MW/m<tspan font-size="7" dy="-4">2</tspan><tspan dy="4">&#183;K)</tspan></text>
<text transform="translate(478.3,645.3) rotate(-90)" font-size="13" font-weight="bold" text-anchor="middle" fill="#231f20" textLength="128.5" lengthAdjust="spacingAndGlyphs">Current of Degradation</text>
<text transform="translate(491.3,645.6) rotate(-90)" font-size="11.8" font-weight="bold" text-anchor="middle" fill="#231f20">(mA/mm)</text>
<text x="469.80" y="574.00" font-size="14" text-anchor="start" font-weight="bold" fill="#231f20" >(l)</text></svg></body></html>
